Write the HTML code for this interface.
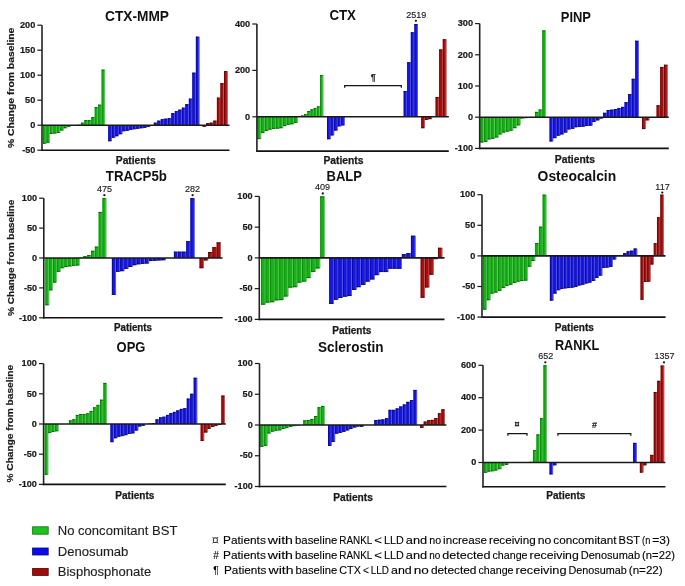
<!DOCTYPE html>
<html><head><meta charset="utf-8"><style>
html,body{margin:0;padding:0;background:#fff;}
svg{display:block;filter:blur(0.45px);}
text{font-family:'Liberation Sans', sans-serif;}
.tk{font-size:9.6px;font-weight:bold;fill:#1a1a1a;stroke:#1a1a1a;stroke-width:0.2px;}
.ti{font-size:14px;font-weight:bold;fill:#111;}
.pt{font-size:10px;font-weight:bold;fill:#1a1a1a;stroke:#1a1a1a;stroke-width:0.25px;}
.yl{font-size:9.4px;font-weight:bold;fill:#1a1a1a;stroke:#1a1a1a;stroke-width:0.2px;}
.nt{font-size:9px;fill:#222;stroke:#222;stroke-width:0.15px;}
.lg{font-size:12.2px;fill:#1e1e1e;stroke:#1e1e1e;stroke-width:0.12px;}
.fn{font-size:10px;fill:#000;stroke:#000;stroke-width:0.1px;}
</style></head><body>
<svg width="685" height="586" viewBox="0 0 685 586">
<rect width="685" height="586" fill="#fff"/>
<rect x="43" y="125.2" width="3.45" height="18.5" fill="#1aae1a"/>
<rect x="45.65" y="125.2" width="0.8" height="18.5" fill="#62dc62"/>
<rect x="43" y="125.2" width="0.9" height="18.5" fill="#148a14"/>
<rect x="43" y="142.8" width="2.65" height="0.9" fill="#0d620d"/>
<rect x="46.45" y="125.2" width="3.45" height="17.5" fill="#1aae1a"/>
<rect x="49.1" y="125.2" width="0.8" height="17.5" fill="#62dc62"/>
<rect x="46.45" y="125.2" width="0.9" height="17.5" fill="#148a14"/>
<rect x="46.45" y="141.8" width="2.65" height="0.9" fill="#0d620d"/>
<rect x="49.9" y="125.2" width="3.45" height="8.75" fill="#1aae1a"/>
<rect x="52.55" y="125.2" width="0.8" height="8.75" fill="#62dc62"/>
<rect x="49.9" y="125.2" width="0.9" height="8.75" fill="#148a14"/>
<rect x="49.9" y="133.05" width="2.65" height="0.9" fill="#0d620d"/>
<rect x="53.35" y="125.2" width="3.45" height="8.25" fill="#1aae1a"/>
<rect x="56" y="125.2" width="0.8" height="8.25" fill="#62dc62"/>
<rect x="53.35" y="125.2" width="0.9" height="8.25" fill="#148a14"/>
<rect x="53.35" y="132.55" width="2.65" height="0.9" fill="#0d620d"/>
<rect x="56.8" y="125.2" width="3.45" height="7.75" fill="#1aae1a"/>
<rect x="59.45" y="125.2" width="0.8" height="7.75" fill="#62dc62"/>
<rect x="56.8" y="125.2" width="0.9" height="7.75" fill="#148a14"/>
<rect x="56.8" y="132.05" width="2.65" height="0.9" fill="#0d620d"/>
<rect x="60.25" y="125.2" width="3.45" height="5.25" fill="#1aae1a"/>
<rect x="62.9" y="125.2" width="0.8" height="5.25" fill="#62dc62"/>
<rect x="60.25" y="125.2" width="0.9" height="5.25" fill="#148a14"/>
<rect x="60.25" y="129.55" width="2.65" height="0.9" fill="#0d620d"/>
<rect x="63.7" y="125.2" width="3.45" height="3" fill="#1aae1a"/>
<rect x="66.35" y="125.2" width="0.8" height="3" fill="#62dc62"/>
<rect x="63.7" y="125.2" width="0.9" height="3" fill="#148a14"/>
<rect x="63.7" y="127.3" width="2.65" height="0.9" fill="#0d620d"/>
<rect x="67.15" y="125.2" width="3.45" height="1.5" fill="#1aae1a"/>
<rect x="69.8" y="125.2" width="0.8" height="1.5" fill="#62dc62"/>
<rect x="67.15" y="125.2" width="0.9" height="1.5" fill="#148a14"/>
<rect x="67.15" y="125.8" width="2.65" height="0.9" fill="#0d620d"/>
<rect x="77.5" y="124.7" width="3.45" height="0.5" fill="#1aae1a"/>
<rect x="80.15" y="124.7" width="0.8" height="0.5" fill="#62dc62"/>
<rect x="77.5" y="124.7" width="0.9" height="0.5" fill="#148a14"/>
<rect x="80.95" y="122.7" width="3.45" height="2.5" fill="#1aae1a"/>
<rect x="83.6" y="122.7" width="0.8" height="2.5" fill="#62dc62"/>
<rect x="80.95" y="122.7" width="0.9" height="2.5" fill="#148a14"/>
<rect x="80.95" y="122.7" width="2.65" height="0.9" fill="#0d620d"/>
<rect x="84.4" y="120.2" width="3.45" height="5" fill="#1aae1a"/>
<rect x="87.05" y="120.2" width="0.8" height="5" fill="#62dc62"/>
<rect x="84.4" y="120.2" width="0.9" height="5" fill="#148a14"/>
<rect x="84.4" y="120.2" width="2.65" height="0.9" fill="#0d620d"/>
<rect x="87.85" y="120.2" width="3.45" height="5" fill="#1aae1a"/>
<rect x="90.5" y="120.2" width="0.8" height="5" fill="#62dc62"/>
<rect x="87.85" y="120.2" width="0.9" height="5" fill="#148a14"/>
<rect x="87.85" y="120.2" width="2.65" height="0.9" fill="#0d620d"/>
<rect x="91.3" y="117.2" width="3.45" height="8" fill="#1aae1a"/>
<rect x="93.95" y="117.2" width="0.8" height="8" fill="#62dc62"/>
<rect x="91.3" y="117.2" width="0.9" height="8" fill="#148a14"/>
<rect x="91.3" y="117.2" width="2.65" height="0.9" fill="#0d620d"/>
<rect x="94.75" y="107.2" width="3.45" height="18" fill="#1aae1a"/>
<rect x="97.4" y="107.2" width="0.8" height="18" fill="#62dc62"/>
<rect x="94.75" y="107.2" width="0.9" height="18" fill="#148a14"/>
<rect x="94.75" y="107.2" width="2.65" height="0.9" fill="#0d620d"/>
<rect x="98.2" y="104.7" width="3.45" height="20.5" fill="#1aae1a"/>
<rect x="100.85" y="104.7" width="0.8" height="20.5" fill="#62dc62"/>
<rect x="98.2" y="104.7" width="0.9" height="20.5" fill="#148a14"/>
<rect x="98.2" y="104.7" width="2.65" height="0.9" fill="#0d620d"/>
<rect x="101.65" y="69.7" width="3.45" height="55.5" fill="#1aae1a"/>
<rect x="104.3" y="69.7" width="0.8" height="55.5" fill="#62dc62"/>
<rect x="101.65" y="69.7" width="0.9" height="55.5" fill="#148a14"/>
<rect x="101.65" y="69.7" width="2.65" height="0.9" fill="#0d620d"/>
<rect x="108.3" y="125.2" width="3.5" height="16" fill="#1818e6"/>
<rect x="111" y="125.2" width="0.8" height="16" fill="#6c6cf5"/>
<rect x="108.3" y="125.2" width="0.9" height="16" fill="#0c0c8a"/>
<rect x="108.3" y="140.3" width="2.7" height="0.9" fill="#0a0a70"/>
<rect x="111.8" y="125.2" width="3.5" height="12.5" fill="#1818e6"/>
<rect x="114.51" y="125.2" width="0.8" height="12.5" fill="#6c6cf5"/>
<rect x="111.8" y="125.2" width="0.9" height="12.5" fill="#0c0c8a"/>
<rect x="111.8" y="136.8" width="2.7" height="0.9" fill="#0a0a70"/>
<rect x="115.31" y="125.2" width="3.5" height="11" fill="#1818e6"/>
<rect x="118.01" y="125.2" width="0.8" height="11" fill="#6c6cf5"/>
<rect x="115.31" y="125.2" width="0.9" height="11" fill="#0c0c8a"/>
<rect x="115.31" y="135.3" width="2.7" height="0.9" fill="#0a0a70"/>
<rect x="118.81" y="125.2" width="3.5" height="9" fill="#1818e6"/>
<rect x="121.52" y="125.2" width="0.8" height="9" fill="#6c6cf5"/>
<rect x="118.81" y="125.2" width="0.9" height="9" fill="#0c0c8a"/>
<rect x="118.81" y="133.3" width="2.7" height="0.9" fill="#0a0a70"/>
<rect x="122.32" y="125.2" width="3.5" height="6" fill="#1818e6"/>
<rect x="125.02" y="125.2" width="0.8" height="6" fill="#6c6cf5"/>
<rect x="122.32" y="125.2" width="0.9" height="6" fill="#0c0c8a"/>
<rect x="122.32" y="130.3" width="2.7" height="0.9" fill="#0a0a70"/>
<rect x="125.82" y="125.2" width="3.5" height="5.5" fill="#1818e6"/>
<rect x="128.52" y="125.2" width="0.8" height="5.5" fill="#6c6cf5"/>
<rect x="125.82" y="125.2" width="0.9" height="5.5" fill="#0c0c8a"/>
<rect x="125.82" y="129.8" width="2.7" height="0.9" fill="#0a0a70"/>
<rect x="129.32" y="125.2" width="3.5" height="4.5" fill="#1818e6"/>
<rect x="132.03" y="125.2" width="0.8" height="4.5" fill="#6c6cf5"/>
<rect x="129.32" y="125.2" width="0.9" height="4.5" fill="#0c0c8a"/>
<rect x="129.32" y="128.8" width="2.7" height="0.9" fill="#0a0a70"/>
<rect x="132.83" y="125.2" width="3.5" height="4" fill="#1818e6"/>
<rect x="135.53" y="125.2" width="0.8" height="4" fill="#6c6cf5"/>
<rect x="132.83" y="125.2" width="0.9" height="4" fill="#0c0c8a"/>
<rect x="132.83" y="128.3" width="2.7" height="0.9" fill="#0a0a70"/>
<rect x="136.33" y="125.2" width="3.5" height="3.5" fill="#1818e6"/>
<rect x="139.03" y="125.2" width="0.8" height="3.5" fill="#6c6cf5"/>
<rect x="136.33" y="125.2" width="0.9" height="3.5" fill="#0c0c8a"/>
<rect x="136.33" y="127.8" width="2.7" height="0.9" fill="#0a0a70"/>
<rect x="139.83" y="125.2" width="3.5" height="3" fill="#1818e6"/>
<rect x="142.54" y="125.2" width="0.8" height="3" fill="#6c6cf5"/>
<rect x="139.83" y="125.2" width="0.9" height="3" fill="#0c0c8a"/>
<rect x="139.83" y="127.3" width="2.7" height="0.9" fill="#0a0a70"/>
<rect x="143.34" y="125.2" width="3.5" height="2.5" fill="#1818e6"/>
<rect x="146.04" y="125.2" width="0.8" height="2.5" fill="#6c6cf5"/>
<rect x="143.34" y="125.2" width="0.9" height="2.5" fill="#0c0c8a"/>
<rect x="143.34" y="126.8" width="2.7" height="0.9" fill="#0a0a70"/>
<rect x="146.84" y="125.2" width="3.5" height="1.5" fill="#1818e6"/>
<rect x="149.55" y="125.2" width="0.8" height="1.5" fill="#6c6cf5"/>
<rect x="146.84" y="125.2" width="0.9" height="1.5" fill="#0c0c8a"/>
<rect x="146.84" y="125.8" width="2.7" height="0.9" fill="#0a0a70"/>
<rect x="153.85" y="122.7" width="3.5" height="2.5" fill="#1818e6"/>
<rect x="156.55" y="122.7" width="0.8" height="2.5" fill="#6c6cf5"/>
<rect x="153.85" y="122.7" width="0.9" height="2.5" fill="#0c0c8a"/>
<rect x="153.85" y="122.7" width="2.7" height="0.9" fill="#0a0a70"/>
<rect x="157.35" y="120.7" width="3.5" height="4.5" fill="#1818e6"/>
<rect x="160.06" y="120.7" width="0.8" height="4.5" fill="#6c6cf5"/>
<rect x="157.35" y="120.7" width="0.9" height="4.5" fill="#0c0c8a"/>
<rect x="157.35" y="120.7" width="2.7" height="0.9" fill="#0a0a70"/>
<rect x="160.86" y="119.2" width="3.5" height="6" fill="#1818e6"/>
<rect x="163.56" y="119.2" width="0.8" height="6" fill="#6c6cf5"/>
<rect x="160.86" y="119.2" width="0.9" height="6" fill="#0c0c8a"/>
<rect x="160.86" y="119.2" width="2.7" height="0.9" fill="#0a0a70"/>
<rect x="164.36" y="118.7" width="3.5" height="6.5" fill="#1818e6"/>
<rect x="167.07" y="118.7" width="0.8" height="6.5" fill="#6c6cf5"/>
<rect x="164.36" y="118.7" width="0.9" height="6.5" fill="#0c0c8a"/>
<rect x="164.36" y="118.7" width="2.7" height="0.9" fill="#0a0a70"/>
<rect x="167.87" y="118.2" width="3.5" height="7" fill="#1818e6"/>
<rect x="170.57" y="118.2" width="0.8" height="7" fill="#6c6cf5"/>
<rect x="167.87" y="118.2" width="0.9" height="7" fill="#0c0c8a"/>
<rect x="167.87" y="118.2" width="2.7" height="0.9" fill="#0a0a70"/>
<rect x="171.37" y="113.2" width="3.5" height="12" fill="#1818e6"/>
<rect x="174.07" y="113.2" width="0.8" height="12" fill="#6c6cf5"/>
<rect x="171.37" y="113.2" width="0.9" height="12" fill="#0c0c8a"/>
<rect x="171.37" y="113.2" width="2.7" height="0.9" fill="#0a0a70"/>
<rect x="174.87" y="111.2" width="3.5" height="14" fill="#1818e6"/>
<rect x="177.58" y="111.2" width="0.8" height="14" fill="#6c6cf5"/>
<rect x="174.87" y="111.2" width="0.9" height="14" fill="#0c0c8a"/>
<rect x="174.87" y="111.2" width="2.7" height="0.9" fill="#0a0a70"/>
<rect x="178.38" y="109.7" width="3.5" height="15.5" fill="#1818e6"/>
<rect x="181.08" y="109.7" width="0.8" height="15.5" fill="#6c6cf5"/>
<rect x="178.38" y="109.7" width="0.9" height="15.5" fill="#0c0c8a"/>
<rect x="178.38" y="109.7" width="2.7" height="0.9" fill="#0a0a70"/>
<rect x="181.88" y="107.7" width="3.5" height="17.5" fill="#1818e6"/>
<rect x="184.58" y="107.7" width="0.8" height="17.5" fill="#6c6cf5"/>
<rect x="181.88" y="107.7" width="0.9" height="17.5" fill="#0c0c8a"/>
<rect x="181.88" y="107.7" width="2.7" height="0.9" fill="#0a0a70"/>
<rect x="185.38" y="104.2" width="3.5" height="21" fill="#1818e6"/>
<rect x="188.09" y="104.2" width="0.8" height="21" fill="#6c6cf5"/>
<rect x="185.38" y="104.2" width="0.9" height="21" fill="#0c0c8a"/>
<rect x="185.38" y="104.2" width="2.7" height="0.9" fill="#0a0a70"/>
<rect x="188.89" y="98.7" width="3.5" height="26.5" fill="#1818e6"/>
<rect x="191.59" y="98.7" width="0.8" height="26.5" fill="#6c6cf5"/>
<rect x="188.89" y="98.7" width="0.9" height="26.5" fill="#0c0c8a"/>
<rect x="188.89" y="98.7" width="2.7" height="0.9" fill="#0a0a70"/>
<rect x="192.39" y="72.7" width="3.5" height="52.5" fill="#1818e6"/>
<rect x="195.1" y="72.7" width="0.8" height="52.5" fill="#6c6cf5"/>
<rect x="192.39" y="72.7" width="0.9" height="52.5" fill="#0c0c8a"/>
<rect x="192.39" y="72.7" width="2.7" height="0.9" fill="#0a0a70"/>
<rect x="195.9" y="36.7" width="3.5" height="88.5" fill="#1818e6"/>
<rect x="198.6" y="36.7" width="0.8" height="88.5" fill="#6c6cf5"/>
<rect x="195.9" y="36.7" width="0.9" height="88.5" fill="#0c0c8a"/>
<rect x="195.9" y="36.7" width="2.7" height="0.9" fill="#0a0a70"/>
<rect x="202.7" y="125.2" width="3.56" height="1.5" fill="#a31111"/>
<rect x="205.46" y="125.2" width="0.8" height="1.5" fill="#d26262"/>
<rect x="202.7" y="125.2" width="0.9" height="1.5" fill="#6a0808"/>
<rect x="202.7" y="125.8" width="2.76" height="0.9" fill="#500505"/>
<rect x="206.26" y="123.2" width="3.56" height="2" fill="#a31111"/>
<rect x="209.01" y="123.2" width="0.8" height="2" fill="#d26262"/>
<rect x="206.26" y="123.2" width="0.9" height="2" fill="#6a0808"/>
<rect x="206.26" y="123.2" width="2.76" height="0.9" fill="#500505"/>
<rect x="209.81" y="122.7" width="3.56" height="2.5" fill="#a31111"/>
<rect x="212.57" y="122.7" width="0.8" height="2.5" fill="#d26262"/>
<rect x="209.81" y="122.7" width="0.9" height="2.5" fill="#6a0808"/>
<rect x="209.81" y="122.7" width="2.76" height="0.9" fill="#500505"/>
<rect x="213.37" y="120.7" width="3.56" height="4.5" fill="#a31111"/>
<rect x="216.13" y="120.7" width="0.8" height="4.5" fill="#d26262"/>
<rect x="213.37" y="120.7" width="0.9" height="4.5" fill="#6a0808"/>
<rect x="213.37" y="120.7" width="2.76" height="0.9" fill="#500505"/>
<rect x="216.93" y="97.7" width="3.56" height="27.5" fill="#a31111"/>
<rect x="219.69" y="97.7" width="0.8" height="27.5" fill="#d26262"/>
<rect x="216.93" y="97.7" width="0.9" height="27.5" fill="#6a0808"/>
<rect x="216.93" y="97.7" width="2.76" height="0.9" fill="#500505"/>
<rect x="220.49" y="83.2" width="3.56" height="42" fill="#a31111"/>
<rect x="223.24" y="83.2" width="0.8" height="42" fill="#d26262"/>
<rect x="220.49" y="83.2" width="0.9" height="42" fill="#6a0808"/>
<rect x="220.49" y="83.2" width="2.76" height="0.9" fill="#500505"/>
<rect x="224.04" y="71.2" width="3.56" height="54" fill="#a31111"/>
<rect x="226.8" y="71.2" width="0.8" height="54" fill="#d26262"/>
<rect x="224.04" y="71.2" width="0.9" height="54" fill="#6a0808"/>
<rect x="224.04" y="71.2" width="2.76" height="0.9" fill="#500505"/>
<line x1="42" y1="125.2" x2="229.5" y2="125.2" stroke="#1a1a1a" stroke-width="1.6"/>
<line x1="41.2" y1="150.2" x2="229.5" y2="150.2" stroke="#111" stroke-width="1.6"/>
<line x1="42" y1="25.2" x2="42" y2="151" stroke="#222" stroke-width="1.6"/>
<line x1="37.4" y1="25.2" x2="42" y2="25.2" stroke="#1a1a1a" stroke-width="1.2"/>
<text x="20" y="27.9" class="tk" textLength="15.3" lengthAdjust="spacingAndGlyphs">200</text>
<line x1="37.4" y1="50.2" x2="42" y2="50.2" stroke="#1a1a1a" stroke-width="1.2"/>
<text x="20" y="52.9" class="tk" textLength="15.3" lengthAdjust="spacingAndGlyphs">150</text>
<line x1="37.4" y1="75.2" x2="42" y2="75.2" stroke="#1a1a1a" stroke-width="1.2"/>
<text x="20" y="77.9" class="tk" textLength="15.3" lengthAdjust="spacingAndGlyphs">100</text>
<line x1="37.4" y1="100.2" x2="42" y2="100.2" stroke="#1a1a1a" stroke-width="1.2"/>
<text x="25.1" y="102.9" class="tk" textLength="10.2" lengthAdjust="spacingAndGlyphs">50</text>
<line x1="37.4" y1="125.2" x2="42" y2="125.2" stroke="#1a1a1a" stroke-width="1.2"/>
<text x="30.2" y="127.9" class="tk" textLength="5.1" lengthAdjust="spacingAndGlyphs">0</text>
<line x1="37.4" y1="150.2" x2="42" y2="150.2" stroke="#1a1a1a" stroke-width="1.2"/>
<text x="22.2" y="152.9" class="tk" textLength="13.1" lengthAdjust="spacingAndGlyphs">-50</text>
<text x="105" y="21" class="ti" textLength="64" lengthAdjust="spacingAndGlyphs">CTX-MMP</text>
<text x="115.8" y="163.9" class="pt" textLength="39.9" lengthAdjust="spacingAndGlyphs">Patients</text>
<text transform="translate(14.4,87.85) rotate(-90)" text-anchor="middle" class="yl" textLength="120.5" lengthAdjust="spacingAndGlyphs">% Change from baseline</text>
<rect x="257.5" y="116.8" width="3.66" height="22.27" fill="#1aae1a"/>
<rect x="260.36" y="116.8" width="0.8" height="22.27" fill="#62dc62"/>
<rect x="257.5" y="116.8" width="0.9" height="22.27" fill="#148a14"/>
<rect x="257.5" y="138.17" width="2.86" height="0.9" fill="#0d620d"/>
<rect x="261.16" y="116.8" width="3.66" height="16.24" fill="#1aae1a"/>
<rect x="264.03" y="116.8" width="0.8" height="16.24" fill="#62dc62"/>
<rect x="261.16" y="116.8" width="0.9" height="16.24" fill="#148a14"/>
<rect x="261.16" y="132.14" width="2.86" height="0.9" fill="#0d620d"/>
<rect x="264.83" y="116.8" width="3.66" height="14.15" fill="#1aae1a"/>
<rect x="267.69" y="116.8" width="0.8" height="14.15" fill="#62dc62"/>
<rect x="264.83" y="116.8" width="0.9" height="14.15" fill="#148a14"/>
<rect x="264.83" y="130.05" width="2.86" height="0.9" fill="#0d620d"/>
<rect x="268.49" y="116.8" width="3.66" height="12.76" fill="#1aae1a"/>
<rect x="271.35" y="116.8" width="0.8" height="12.76" fill="#62dc62"/>
<rect x="268.49" y="116.8" width="0.9" height="12.76" fill="#148a14"/>
<rect x="268.49" y="128.66" width="2.86" height="0.9" fill="#0d620d"/>
<rect x="272.15" y="116.8" width="3.66" height="12.18" fill="#1aae1a"/>
<rect x="275.02" y="116.8" width="0.8" height="12.18" fill="#62dc62"/>
<rect x="272.15" y="116.8" width="0.9" height="12.18" fill="#148a14"/>
<rect x="272.15" y="128.08" width="2.86" height="0.9" fill="#0d620d"/>
<rect x="275.82" y="116.8" width="3.66" height="11.83" fill="#1aae1a"/>
<rect x="278.68" y="116.8" width="0.8" height="11.83" fill="#62dc62"/>
<rect x="275.82" y="116.8" width="0.9" height="11.83" fill="#148a14"/>
<rect x="275.82" y="127.73" width="2.86" height="0.9" fill="#0d620d"/>
<rect x="279.48" y="116.8" width="3.66" height="11.37" fill="#1aae1a"/>
<rect x="282.35" y="116.8" width="0.8" height="11.37" fill="#62dc62"/>
<rect x="279.48" y="116.8" width="0.9" height="11.37" fill="#148a14"/>
<rect x="279.48" y="127.27" width="2.86" height="0.9" fill="#0d620d"/>
<rect x="283.15" y="116.8" width="3.66" height="9.28" fill="#1aae1a"/>
<rect x="286.01" y="116.8" width="0.8" height="9.28" fill="#62dc62"/>
<rect x="283.15" y="116.8" width="0.9" height="9.28" fill="#148a14"/>
<rect x="283.15" y="125.18" width="2.86" height="0.9" fill="#0d620d"/>
<rect x="286.81" y="116.8" width="3.66" height="7.89" fill="#1aae1a"/>
<rect x="289.67" y="116.8" width="0.8" height="7.89" fill="#62dc62"/>
<rect x="286.81" y="116.8" width="0.9" height="7.89" fill="#148a14"/>
<rect x="286.81" y="123.79" width="2.86" height="0.9" fill="#0d620d"/>
<rect x="290.47" y="116.8" width="3.66" height="7.42" fill="#1aae1a"/>
<rect x="293.34" y="116.8" width="0.8" height="7.42" fill="#62dc62"/>
<rect x="290.47" y="116.8" width="0.9" height="7.42" fill="#148a14"/>
<rect x="290.47" y="123.32" width="2.86" height="0.9" fill="#0d620d"/>
<rect x="294.14" y="116.8" width="3.66" height="6.03" fill="#1aae1a"/>
<rect x="297" y="116.8" width="0.8" height="6.03" fill="#62dc62"/>
<rect x="294.14" y="116.8" width="0.9" height="6.03" fill="#148a14"/>
<rect x="294.14" y="121.93" width="2.86" height="0.9" fill="#0d620d"/>
<rect x="297.8" y="116.34" width="3.19" height="0.46" fill="#1aae1a"/>
<rect x="300.19" y="116.34" width="0.8" height="0.46" fill="#62dc62"/>
<rect x="297.8" y="116.34" width="0.9" height="0.46" fill="#148a14"/>
<rect x="300.99" y="115.52" width="3.19" height="1.28" fill="#1aae1a"/>
<rect x="303.38" y="115.52" width="0.8" height="1.28" fill="#62dc62"/>
<rect x="300.99" y="115.52" width="0.9" height="1.28" fill="#148a14"/>
<rect x="300.99" y="115.52" width="2.39" height="0.9" fill="#0d620d"/>
<rect x="304.18" y="114.02" width="3.19" height="2.78" fill="#1aae1a"/>
<rect x="306.56" y="114.02" width="0.8" height="2.78" fill="#62dc62"/>
<rect x="304.18" y="114.02" width="0.9" height="2.78" fill="#148a14"/>
<rect x="304.18" y="114.02" width="2.39" height="0.9" fill="#0d620d"/>
<rect x="307.36" y="111" width="3.19" height="5.8" fill="#1aae1a"/>
<rect x="309.75" y="111" width="0.8" height="5.8" fill="#62dc62"/>
<rect x="307.36" y="111" width="0.9" height="5.8" fill="#148a14"/>
<rect x="307.36" y="111" width="2.39" height="0.9" fill="#0d620d"/>
<rect x="310.55" y="109.38" width="3.19" height="7.42" fill="#1aae1a"/>
<rect x="312.94" y="109.38" width="0.8" height="7.42" fill="#62dc62"/>
<rect x="310.55" y="109.38" width="0.9" height="7.42" fill="#148a14"/>
<rect x="310.55" y="109.38" width="2.39" height="0.9" fill="#0d620d"/>
<rect x="313.74" y="108.1" width="3.19" height="8.7" fill="#1aae1a"/>
<rect x="316.12" y="108.1" width="0.8" height="8.7" fill="#62dc62"/>
<rect x="313.74" y="108.1" width="0.9" height="8.7" fill="#148a14"/>
<rect x="313.74" y="108.1" width="2.39" height="0.9" fill="#0d620d"/>
<rect x="316.93" y="106.36" width="3.19" height="10.44" fill="#1aae1a"/>
<rect x="319.31" y="106.36" width="0.8" height="10.44" fill="#62dc62"/>
<rect x="316.93" y="106.36" width="0.9" height="10.44" fill="#148a14"/>
<rect x="316.93" y="106.36" width="2.39" height="0.9" fill="#0d620d"/>
<rect x="320.11" y="75.04" width="3.19" height="41.76" fill="#1aae1a"/>
<rect x="322.5" y="75.04" width="0.8" height="41.76" fill="#62dc62"/>
<rect x="320.11" y="75.04" width="0.9" height="41.76" fill="#148a14"/>
<rect x="320.11" y="75.04" width="2.39" height="0.9" fill="#0d620d"/>
<rect x="327.1" y="116.8" width="3.52" height="22.39" fill="#1818e6"/>
<rect x="329.82" y="116.8" width="0.8" height="22.39" fill="#6c6cf5"/>
<rect x="327.1" y="116.8" width="0.9" height="22.39" fill="#0c0c8a"/>
<rect x="327.1" y="138.29" width="2.72" height="0.9" fill="#0a0a70"/>
<rect x="330.62" y="116.8" width="3.52" height="18.56" fill="#1818e6"/>
<rect x="333.34" y="116.8" width="0.8" height="18.56" fill="#6c6cf5"/>
<rect x="330.62" y="116.8" width="0.9" height="18.56" fill="#0c0c8a"/>
<rect x="330.62" y="134.46" width="2.72" height="0.9" fill="#0a0a70"/>
<rect x="334.14" y="116.8" width="3.52" height="13.69" fill="#1818e6"/>
<rect x="336.86" y="116.8" width="0.8" height="13.69" fill="#6c6cf5"/>
<rect x="334.14" y="116.8" width="0.9" height="13.69" fill="#0c0c8a"/>
<rect x="334.14" y="129.59" width="2.72" height="0.9" fill="#0a0a70"/>
<rect x="337.66" y="116.8" width="3.52" height="9.51" fill="#1818e6"/>
<rect x="340.38" y="116.8" width="0.8" height="9.51" fill="#6c6cf5"/>
<rect x="337.66" y="116.8" width="0.9" height="9.51" fill="#0c0c8a"/>
<rect x="337.66" y="125.41" width="2.72" height="0.9" fill="#0a0a70"/>
<rect x="341.18" y="116.8" width="3.52" height="8.58" fill="#1818e6"/>
<rect x="343.9" y="116.8" width="0.8" height="8.58" fill="#6c6cf5"/>
<rect x="341.18" y="116.8" width="0.9" height="8.58" fill="#0c0c8a"/>
<rect x="341.18" y="124.48" width="2.72" height="0.9" fill="#0a0a70"/>
<rect x="403.7" y="91.05" width="3.58" height="25.75" fill="#1818e6"/>
<rect x="406.47" y="91.05" width="0.8" height="25.75" fill="#6c6cf5"/>
<rect x="403.7" y="91.05" width="0.9" height="25.75" fill="#0c0c8a"/>
<rect x="403.7" y="91.05" width="2.78" height="0.9" fill="#0a0a70"/>
<rect x="407.27" y="62.28" width="3.58" height="54.52" fill="#1818e6"/>
<rect x="410.05" y="62.28" width="0.8" height="54.52" fill="#6c6cf5"/>
<rect x="407.27" y="62.28" width="0.9" height="54.52" fill="#0c0c8a"/>
<rect x="407.27" y="62.28" width="2.78" height="0.9" fill="#0a0a70"/>
<rect x="410.85" y="32.35" width="3.58" height="84.45" fill="#1818e6"/>
<rect x="413.62" y="32.35" width="0.8" height="84.45" fill="#6c6cf5"/>
<rect x="410.85" y="32.35" width="0.9" height="84.45" fill="#0c0c8a"/>
<rect x="410.85" y="32.35" width="2.78" height="0.9" fill="#0a0a70"/>
<rect x="414.43" y="24" width="3.58" height="92.8" fill="#1818e6"/>
<rect x="417.2" y="24" width="0.8" height="92.8" fill="#6c6cf5"/>
<rect x="414.43" y="24" width="0.9" height="92.8" fill="#0c0c8a"/>
<rect x="414.43" y="24" width="2.78" height="0.9" fill="#0a0a70"/>
<rect x="421.3" y="116.8" width="3.59" height="11.37" fill="#a31111"/>
<rect x="424.09" y="116.8" width="0.8" height="11.37" fill="#d26262"/>
<rect x="421.3" y="116.8" width="0.9" height="11.37" fill="#6a0808"/>
<rect x="421.3" y="127.27" width="2.79" height="0.9" fill="#500505"/>
<rect x="424.89" y="116.8" width="3.59" height="3.02" fill="#a31111"/>
<rect x="427.67" y="116.8" width="0.8" height="3.02" fill="#d26262"/>
<rect x="424.89" y="116.8" width="0.9" height="3.02" fill="#6a0808"/>
<rect x="424.89" y="118.92" width="2.79" height="0.9" fill="#500505"/>
<rect x="428.47" y="116.8" width="3.59" height="2.32" fill="#a31111"/>
<rect x="431.26" y="116.8" width="0.8" height="2.32" fill="#d26262"/>
<rect x="428.47" y="116.8" width="0.9" height="2.32" fill="#6a0808"/>
<rect x="428.47" y="118.22" width="2.79" height="0.9" fill="#500505"/>
<rect x="435.64" y="97.08" width="3.59" height="19.72" fill="#a31111"/>
<rect x="438.43" y="97.08" width="0.8" height="19.72" fill="#d26262"/>
<rect x="435.64" y="97.08" width="0.9" height="19.72" fill="#6a0808"/>
<rect x="435.64" y="97.08" width="2.79" height="0.9" fill="#500505"/>
<rect x="439.23" y="49.52" width="3.59" height="67.28" fill="#a31111"/>
<rect x="442.01" y="49.52" width="0.8" height="67.28" fill="#d26262"/>
<rect x="439.23" y="49.52" width="0.9" height="67.28" fill="#6a0808"/>
<rect x="439.23" y="49.52" width="2.79" height="0.9" fill="#500505"/>
<rect x="442.81" y="39.31" width="3.59" height="77.49" fill="#a31111"/>
<rect x="445.6" y="39.31" width="0.8" height="77.49" fill="#d26262"/>
<rect x="442.81" y="39.31" width="0.9" height="77.49" fill="#6a0808"/>
<rect x="442.81" y="39.31" width="2.79" height="0.9" fill="#500505"/>
<line x1="256.9" y1="116.8" x2="448.8" y2="116.8" stroke="#1a1a1a" stroke-width="1.6"/>
<line x1="256.1" y1="151.14" x2="448.8" y2="151.14" stroke="#111" stroke-width="1.6"/>
<line x1="256.9" y1="24" x2="256.9" y2="151.94" stroke="#222" stroke-width="1.6"/>
<line x1="252.3" y1="24" x2="256.9" y2="24" stroke="#1a1a1a" stroke-width="1.2"/>
<text x="234.9" y="26.7" class="tk" textLength="15.3" lengthAdjust="spacingAndGlyphs">400</text>
<line x1="252.3" y1="70.4" x2="256.9" y2="70.4" stroke="#1a1a1a" stroke-width="1.2"/>
<text x="234.9" y="73.1" class="tk" textLength="15.3" lengthAdjust="spacingAndGlyphs">200</text>
<line x1="252.3" y1="116.8" x2="256.9" y2="116.8" stroke="#1a1a1a" stroke-width="1.2"/>
<text x="245.1" y="119.5" class="tk" textLength="5.1" lengthAdjust="spacingAndGlyphs">0</text>
<text x="329.4" y="20.2" class="ti" textLength="26.6" lengthAdjust="spacingAndGlyphs">CTX</text>
<text x="323.5" y="163.9" class="pt" textLength="40" lengthAdjust="spacingAndGlyphs">Patients</text>
<text x="416.2" y="17.5" text-anchor="middle" class="nt">2519</text>
<circle cx="415.9" cy="20.8" r="1.15" fill="#1a1a1a"/>
<path d="M344.7,87.8 V85.6 H401.3 V87.8" fill="none" stroke="#151515" stroke-width="1.25"/>
<text x="373.3" y="79.6" text-anchor="middle" class="nt" font-weight="bold">¶</text>
<rect x="480.4" y="117.2" width="3.64" height="25.27" fill="#1aae1a"/>
<rect x="483.24" y="117.2" width="0.8" height="25.27" fill="#62dc62"/>
<rect x="480.4" y="117.2" width="0.9" height="25.27" fill="#148a14"/>
<rect x="480.4" y="141.57" width="2.84" height="0.9" fill="#0d620d"/>
<rect x="484.04" y="117.2" width="3.64" height="24.65" fill="#1aae1a"/>
<rect x="486.89" y="117.2" width="0.8" height="24.65" fill="#62dc62"/>
<rect x="484.04" y="117.2" width="0.9" height="24.65" fill="#148a14"/>
<rect x="484.04" y="140.95" width="2.84" height="0.9" fill="#0d620d"/>
<rect x="487.69" y="117.2" width="3.64" height="22.15" fill="#1aae1a"/>
<rect x="490.53" y="117.2" width="0.8" height="22.15" fill="#62dc62"/>
<rect x="487.69" y="117.2" width="0.9" height="22.15" fill="#148a14"/>
<rect x="487.69" y="138.45" width="2.84" height="0.9" fill="#0d620d"/>
<rect x="491.33" y="117.2" width="3.64" height="21.53" fill="#1aae1a"/>
<rect x="494.18" y="117.2" width="0.8" height="21.53" fill="#62dc62"/>
<rect x="491.33" y="117.2" width="0.9" height="21.53" fill="#148a14"/>
<rect x="491.33" y="137.83" width="2.84" height="0.9" fill="#0d620d"/>
<rect x="494.98" y="117.2" width="3.64" height="20.28" fill="#1aae1a"/>
<rect x="497.82" y="117.2" width="0.8" height="20.28" fill="#62dc62"/>
<rect x="494.98" y="117.2" width="0.9" height="20.28" fill="#148a14"/>
<rect x="494.98" y="136.58" width="2.84" height="0.9" fill="#0d620d"/>
<rect x="498.62" y="117.2" width="3.64" height="17.16" fill="#1aae1a"/>
<rect x="501.47" y="117.2" width="0.8" height="17.16" fill="#62dc62"/>
<rect x="498.62" y="117.2" width="0.9" height="17.16" fill="#148a14"/>
<rect x="498.62" y="133.46" width="2.84" height="0.9" fill="#0d620d"/>
<rect x="502.27" y="117.2" width="3.64" height="15.29" fill="#1aae1a"/>
<rect x="505.11" y="117.2" width="0.8" height="15.29" fill="#62dc62"/>
<rect x="502.27" y="117.2" width="0.9" height="15.29" fill="#148a14"/>
<rect x="502.27" y="131.59" width="2.84" height="0.9" fill="#0d620d"/>
<rect x="505.91" y="117.2" width="3.64" height="14.35" fill="#1aae1a"/>
<rect x="508.76" y="117.2" width="0.8" height="14.35" fill="#62dc62"/>
<rect x="505.91" y="117.2" width="0.9" height="14.35" fill="#148a14"/>
<rect x="505.91" y="130.65" width="2.84" height="0.9" fill="#0d620d"/>
<rect x="509.56" y="117.2" width="3.64" height="13.42" fill="#1aae1a"/>
<rect x="512.4" y="117.2" width="0.8" height="13.42" fill="#62dc62"/>
<rect x="509.56" y="117.2" width="0.9" height="13.42" fill="#148a14"/>
<rect x="509.56" y="129.72" width="2.84" height="0.9" fill="#0d620d"/>
<rect x="513.2" y="117.2" width="3.64" height="10.92" fill="#1aae1a"/>
<rect x="516.04" y="117.2" width="0.8" height="10.92" fill="#62dc62"/>
<rect x="513.2" y="117.2" width="0.9" height="10.92" fill="#148a14"/>
<rect x="513.2" y="127.22" width="2.84" height="0.9" fill="#0d620d"/>
<rect x="516.84" y="117.2" width="3.64" height="8.11" fill="#1aae1a"/>
<rect x="519.69" y="117.2" width="0.8" height="8.11" fill="#62dc62"/>
<rect x="516.84" y="117.2" width="0.9" height="8.11" fill="#148a14"/>
<rect x="516.84" y="124.41" width="2.84" height="0.9" fill="#0d620d"/>
<rect x="520.49" y="117.2" width="3.64" height="1.25" fill="#1aae1a"/>
<rect x="523.33" y="117.2" width="0.8" height="1.25" fill="#62dc62"/>
<rect x="520.49" y="117.2" width="0.9" height="1.25" fill="#148a14"/>
<rect x="520.49" y="117.55" width="2.84" height="0.9" fill="#0d620d"/>
<rect x="524.13" y="117.2" width="3.64" height="0.94" fill="#1aae1a"/>
<rect x="526.98" y="117.2" width="0.8" height="0.94" fill="#62dc62"/>
<rect x="524.13" y="117.2" width="0.9" height="0.94" fill="#148a14"/>
<rect x="524.13" y="117.24" width="2.84" height="0.9" fill="#0d620d"/>
<rect x="531.42" y="116.89" width="3.64" height="0.31" fill="#1aae1a"/>
<rect x="534.27" y="116.89" width="0.8" height="0.31" fill="#62dc62"/>
<rect x="531.42" y="116.89" width="0.9" height="0.31" fill="#148a14"/>
<rect x="535.07" y="111.9" width="3.64" height="5.3" fill="#1aae1a"/>
<rect x="537.91" y="111.9" width="0.8" height="5.3" fill="#62dc62"/>
<rect x="535.07" y="111.9" width="0.9" height="5.3" fill="#148a14"/>
<rect x="535.07" y="111.9" width="2.84" height="0.9" fill="#0d620d"/>
<rect x="538.71" y="109.56" width="3.64" height="7.64" fill="#1aae1a"/>
<rect x="541.56" y="109.56" width="0.8" height="7.64" fill="#62dc62"/>
<rect x="538.71" y="109.56" width="0.9" height="7.64" fill="#148a14"/>
<rect x="538.71" y="109.56" width="2.84" height="0.9" fill="#0d620d"/>
<rect x="542.36" y="30.46" width="3.64" height="86.74" fill="#1aae1a"/>
<rect x="545.2" y="30.46" width="0.8" height="86.74" fill="#62dc62"/>
<rect x="542.36" y="30.46" width="0.9" height="86.74" fill="#148a14"/>
<rect x="542.36" y="30.46" width="2.84" height="0.9" fill="#0d620d"/>
<rect x="549.6" y="117.2" width="3.57" height="24.21" fill="#1818e6"/>
<rect x="552.37" y="117.2" width="0.8" height="24.21" fill="#6c6cf5"/>
<rect x="549.6" y="117.2" width="0.9" height="24.21" fill="#0c0c8a"/>
<rect x="549.6" y="140.51" width="2.77" height="0.9" fill="#0a0a70"/>
<rect x="553.17" y="117.2" width="3.57" height="20.9" fill="#1818e6"/>
<rect x="555.94" y="117.2" width="0.8" height="20.9" fill="#6c6cf5"/>
<rect x="553.17" y="117.2" width="0.9" height="20.9" fill="#0c0c8a"/>
<rect x="553.17" y="137.2" width="2.77" height="0.9" fill="#0a0a70"/>
<rect x="556.74" y="117.2" width="3.57" height="18.41" fill="#1818e6"/>
<rect x="559.52" y="117.2" width="0.8" height="18.41" fill="#6c6cf5"/>
<rect x="556.74" y="117.2" width="0.9" height="18.41" fill="#0c0c8a"/>
<rect x="556.74" y="134.71" width="2.77" height="0.9" fill="#0a0a70"/>
<rect x="560.32" y="117.2" width="3.57" height="17.16" fill="#1818e6"/>
<rect x="563.09" y="117.2" width="0.8" height="17.16" fill="#6c6cf5"/>
<rect x="560.32" y="117.2" width="0.9" height="17.16" fill="#0c0c8a"/>
<rect x="560.32" y="133.46" width="2.77" height="0.9" fill="#0a0a70"/>
<rect x="563.89" y="117.2" width="3.57" height="15.29" fill="#1818e6"/>
<rect x="566.66" y="117.2" width="0.8" height="15.29" fill="#6c6cf5"/>
<rect x="563.89" y="117.2" width="0.9" height="15.29" fill="#0c0c8a"/>
<rect x="563.89" y="131.59" width="2.77" height="0.9" fill="#0a0a70"/>
<rect x="567.46" y="117.2" width="3.57" height="12.17" fill="#1818e6"/>
<rect x="570.23" y="117.2" width="0.8" height="12.17" fill="#6c6cf5"/>
<rect x="567.46" y="117.2" width="0.9" height="12.17" fill="#0c0c8a"/>
<rect x="567.46" y="128.47" width="2.77" height="0.9" fill="#0a0a70"/>
<rect x="571.03" y="117.2" width="3.57" height="11.54" fill="#1818e6"/>
<rect x="573.8" y="117.2" width="0.8" height="11.54" fill="#6c6cf5"/>
<rect x="571.03" y="117.2" width="0.9" height="11.54" fill="#0c0c8a"/>
<rect x="571.03" y="127.84" width="2.77" height="0.9" fill="#0a0a70"/>
<rect x="574.6" y="117.2" width="3.57" height="9.98" fill="#1818e6"/>
<rect x="577.38" y="117.2" width="0.8" height="9.98" fill="#6c6cf5"/>
<rect x="574.6" y="117.2" width="0.9" height="9.98" fill="#0c0c8a"/>
<rect x="574.6" y="126.28" width="2.77" height="0.9" fill="#0a0a70"/>
<rect x="578.18" y="117.2" width="3.57" height="9.67" fill="#1818e6"/>
<rect x="580.95" y="117.2" width="0.8" height="9.67" fill="#6c6cf5"/>
<rect x="578.18" y="117.2" width="0.9" height="9.67" fill="#0c0c8a"/>
<rect x="578.18" y="125.97" width="2.77" height="0.9" fill="#0a0a70"/>
<rect x="581.75" y="117.2" width="3.57" height="9.36" fill="#1818e6"/>
<rect x="584.52" y="117.2" width="0.8" height="9.36" fill="#6c6cf5"/>
<rect x="581.75" y="117.2" width="0.9" height="9.36" fill="#0c0c8a"/>
<rect x="581.75" y="125.66" width="2.77" height="0.9" fill="#0a0a70"/>
<rect x="585.32" y="117.2" width="3.57" height="8.74" fill="#1818e6"/>
<rect x="588.09" y="117.2" width="0.8" height="8.74" fill="#6c6cf5"/>
<rect x="585.32" y="117.2" width="0.9" height="8.74" fill="#0c0c8a"/>
<rect x="585.32" y="125.04" width="2.77" height="0.9" fill="#0a0a70"/>
<rect x="588.89" y="117.2" width="3.57" height="8.42" fill="#1818e6"/>
<rect x="591.66" y="117.2" width="0.8" height="8.42" fill="#6c6cf5"/>
<rect x="588.89" y="117.2" width="0.9" height="8.42" fill="#0c0c8a"/>
<rect x="588.89" y="124.72" width="2.77" height="0.9" fill="#0a0a70"/>
<rect x="592.46" y="117.2" width="3.57" height="4.68" fill="#1818e6"/>
<rect x="595.24" y="117.2" width="0.8" height="4.68" fill="#6c6cf5"/>
<rect x="592.46" y="117.2" width="0.9" height="4.68" fill="#0c0c8a"/>
<rect x="592.46" y="120.98" width="2.77" height="0.9" fill="#0a0a70"/>
<rect x="596.04" y="117.2" width="3.57" height="3.12" fill="#1818e6"/>
<rect x="598.81" y="117.2" width="0.8" height="3.12" fill="#6c6cf5"/>
<rect x="596.04" y="117.2" width="0.9" height="3.12" fill="#0c0c8a"/>
<rect x="596.04" y="119.42" width="2.77" height="0.9" fill="#0a0a70"/>
<rect x="599.61" y="117.2" width="3.57" height="1.25" fill="#1818e6"/>
<rect x="602.38" y="117.2" width="0.8" height="1.25" fill="#6c6cf5"/>
<rect x="599.61" y="117.2" width="0.9" height="1.25" fill="#0c0c8a"/>
<rect x="599.61" y="117.55" width="2.77" height="0.9" fill="#0a0a70"/>
<rect x="603.18" y="112.83" width="3.57" height="4.37" fill="#1818e6"/>
<rect x="605.95" y="112.83" width="0.8" height="4.37" fill="#6c6cf5"/>
<rect x="603.18" y="112.83" width="0.9" height="4.37" fill="#0c0c8a"/>
<rect x="603.18" y="112.83" width="2.77" height="0.9" fill="#0a0a70"/>
<rect x="606.75" y="110.02" width="3.57" height="7.18" fill="#1818e6"/>
<rect x="609.52" y="110.02" width="0.8" height="7.18" fill="#6c6cf5"/>
<rect x="606.75" y="110.02" width="0.9" height="7.18" fill="#0c0c8a"/>
<rect x="606.75" y="110.02" width="2.77" height="0.9" fill="#0a0a70"/>
<rect x="610.32" y="109.71" width="3.57" height="7.49" fill="#1818e6"/>
<rect x="613.1" y="109.71" width="0.8" height="7.49" fill="#6c6cf5"/>
<rect x="610.32" y="109.71" width="0.9" height="7.49" fill="#0c0c8a"/>
<rect x="610.32" y="109.71" width="2.77" height="0.9" fill="#0a0a70"/>
<rect x="613.9" y="109.09" width="3.57" height="8.11" fill="#1818e6"/>
<rect x="616.67" y="109.09" width="0.8" height="8.11" fill="#6c6cf5"/>
<rect x="613.9" y="109.09" width="0.9" height="8.11" fill="#0c0c8a"/>
<rect x="613.9" y="109.09" width="2.77" height="0.9" fill="#0a0a70"/>
<rect x="617.47" y="108.15" width="3.57" height="9.05" fill="#1818e6"/>
<rect x="620.24" y="108.15" width="0.8" height="9.05" fill="#6c6cf5"/>
<rect x="617.47" y="108.15" width="0.9" height="9.05" fill="#0c0c8a"/>
<rect x="617.47" y="108.15" width="2.77" height="0.9" fill="#0a0a70"/>
<rect x="621.04" y="106.9" width="3.57" height="10.3" fill="#1818e6"/>
<rect x="623.81" y="106.9" width="0.8" height="10.3" fill="#6c6cf5"/>
<rect x="621.04" y="106.9" width="0.9" height="10.3" fill="#0c0c8a"/>
<rect x="621.04" y="106.9" width="2.77" height="0.9" fill="#0a0a70"/>
<rect x="624.61" y="102.22" width="3.57" height="14.98" fill="#1818e6"/>
<rect x="627.38" y="102.22" width="0.8" height="14.98" fill="#6c6cf5"/>
<rect x="624.61" y="102.22" width="0.9" height="14.98" fill="#0c0c8a"/>
<rect x="624.61" y="102.22" width="2.77" height="0.9" fill="#0a0a70"/>
<rect x="628.18" y="94.11" width="3.57" height="23.09" fill="#1818e6"/>
<rect x="630.96" y="94.11" width="0.8" height="23.09" fill="#6c6cf5"/>
<rect x="628.18" y="94.11" width="0.9" height="23.09" fill="#0c0c8a"/>
<rect x="628.18" y="94.11" width="2.77" height="0.9" fill="#0a0a70"/>
<rect x="631.76" y="78.82" width="3.57" height="38.38" fill="#1818e6"/>
<rect x="634.53" y="78.82" width="0.8" height="38.38" fill="#6c6cf5"/>
<rect x="631.76" y="78.82" width="0.9" height="38.38" fill="#0c0c8a"/>
<rect x="631.76" y="78.82" width="2.77" height="0.9" fill="#0a0a70"/>
<rect x="635.33" y="40.76" width="3.57" height="76.44" fill="#1818e6"/>
<rect x="638.1" y="40.76" width="0.8" height="76.44" fill="#6c6cf5"/>
<rect x="635.33" y="40.76" width="0.9" height="76.44" fill="#0c0c8a"/>
<rect x="635.33" y="40.76" width="2.77" height="0.9" fill="#0a0a70"/>
<rect x="642" y="117.2" width="3.66" height="11.86" fill="#a31111"/>
<rect x="644.86" y="117.2" width="0.8" height="11.86" fill="#d26262"/>
<rect x="642" y="117.2" width="0.9" height="11.86" fill="#6a0808"/>
<rect x="642" y="128.16" width="2.86" height="0.9" fill="#500505"/>
<rect x="645.66" y="117.2" width="3.66" height="3.12" fill="#a31111"/>
<rect x="648.51" y="117.2" width="0.8" height="3.12" fill="#d26262"/>
<rect x="645.66" y="117.2" width="0.9" height="3.12" fill="#6a0808"/>
<rect x="645.66" y="119.42" width="2.86" height="0.9" fill="#500505"/>
<rect x="649.31" y="117.2" width="3.66" height="0.62" fill="#a31111"/>
<rect x="652.17" y="117.2" width="0.8" height="0.62" fill="#d26262"/>
<rect x="649.31" y="117.2" width="0.9" height="0.62" fill="#6a0808"/>
<rect x="656.63" y="105.34" width="3.66" height="11.86" fill="#a31111"/>
<rect x="659.49" y="105.34" width="0.8" height="11.86" fill="#d26262"/>
<rect x="656.63" y="105.34" width="0.9" height="11.86" fill="#6a0808"/>
<rect x="656.63" y="105.34" width="2.86" height="0.9" fill="#500505"/>
<rect x="660.29" y="66.97" width="3.66" height="50.23" fill="#a31111"/>
<rect x="663.14" y="66.97" width="0.8" height="50.23" fill="#d26262"/>
<rect x="660.29" y="66.97" width="0.9" height="50.23" fill="#6a0808"/>
<rect x="660.29" y="66.97" width="2.86" height="0.9" fill="#500505"/>
<rect x="663.94" y="64.78" width="3.66" height="52.42" fill="#a31111"/>
<rect x="666.8" y="64.78" width="0.8" height="52.42" fill="#d26262"/>
<rect x="663.94" y="64.78" width="0.9" height="52.42" fill="#6a0808"/>
<rect x="663.94" y="64.78" width="2.86" height="0.9" fill="#500505"/>
<line x1="479.7" y1="117.2" x2="668.8" y2="117.2" stroke="#1a1a1a" stroke-width="1.6"/>
<line x1="478.9" y1="148.4" x2="668.8" y2="148.4" stroke="#111" stroke-width="1.6"/>
<line x1="479.7" y1="23.6" x2="479.7" y2="149.2" stroke="#222" stroke-width="1.6"/>
<line x1="475.1" y1="23.6" x2="479.7" y2="23.6" stroke="#1a1a1a" stroke-width="1.2"/>
<text x="457.7" y="26.3" class="tk" textLength="15.3" lengthAdjust="spacingAndGlyphs">300</text>
<line x1="475.1" y1="54.8" x2="479.7" y2="54.8" stroke="#1a1a1a" stroke-width="1.2"/>
<text x="457.7" y="57.5" class="tk" textLength="15.3" lengthAdjust="spacingAndGlyphs">200</text>
<line x1="475.1" y1="86" x2="479.7" y2="86" stroke="#1a1a1a" stroke-width="1.2"/>
<text x="457.7" y="88.7" class="tk" textLength="15.3" lengthAdjust="spacingAndGlyphs">100</text>
<line x1="475.1" y1="117.2" x2="479.7" y2="117.2" stroke="#1a1a1a" stroke-width="1.2"/>
<text x="467.9" y="119.9" class="tk" textLength="5.1" lengthAdjust="spacingAndGlyphs">0</text>
<line x1="475.1" y1="148.4" x2="479.7" y2="148.4" stroke="#1a1a1a" stroke-width="1.2"/>
<text x="454.8" y="151.1" class="tk" textLength="18.2" lengthAdjust="spacingAndGlyphs">-100</text>
<text x="560.8" y="21.8" class="ti" textLength="30.2" lengthAdjust="spacingAndGlyphs">PINP</text>
<text x="554.8" y="162.6" class="pt" textLength="40.1" lengthAdjust="spacingAndGlyphs">Patients</text>
<rect x="45.4" y="258" width="3.81" height="47.24" fill="#1aae1a"/>
<rect x="48.41" y="258" width="0.8" height="47.24" fill="#62dc62"/>
<rect x="45.4" y="258" width="0.9" height="47.24" fill="#148a14"/>
<rect x="45.4" y="304.34" width="3.01" height="0.9" fill="#0d620d"/>
<rect x="49.21" y="258" width="3.81" height="32.29" fill="#1aae1a"/>
<rect x="52.21" y="258" width="0.8" height="32.29" fill="#62dc62"/>
<rect x="49.21" y="258" width="0.9" height="32.29" fill="#148a14"/>
<rect x="49.21" y="289.39" width="3.01" height="0.9" fill="#0d620d"/>
<rect x="53.01" y="258" width="3.81" height="24.52" fill="#1aae1a"/>
<rect x="56.02" y="258" width="0.8" height="24.52" fill="#62dc62"/>
<rect x="53.01" y="258" width="0.9" height="24.52" fill="#148a14"/>
<rect x="53.01" y="281.62" width="3.01" height="0.9" fill="#0d620d"/>
<rect x="56.82" y="258" width="3.81" height="13.75" fill="#1aae1a"/>
<rect x="59.82" y="258" width="0.8" height="13.75" fill="#62dc62"/>
<rect x="56.82" y="258" width="0.9" height="13.75" fill="#148a14"/>
<rect x="56.82" y="270.85" width="3.01" height="0.9" fill="#0d620d"/>
<rect x="60.62" y="258" width="3.81" height="10.17" fill="#1aae1a"/>
<rect x="63.63" y="258" width="0.8" height="10.17" fill="#62dc62"/>
<rect x="60.62" y="258" width="0.9" height="10.17" fill="#148a14"/>
<rect x="60.62" y="267.27" width="3.01" height="0.9" fill="#0d620d"/>
<rect x="64.43" y="258" width="3.81" height="8.97" fill="#1aae1a"/>
<rect x="67.44" y="258" width="0.8" height="8.97" fill="#62dc62"/>
<rect x="64.43" y="258" width="0.9" height="8.97" fill="#148a14"/>
<rect x="64.43" y="266.07" width="3.01" height="0.9" fill="#0d620d"/>
<rect x="68.24" y="258" width="3.81" height="8.37" fill="#1aae1a"/>
<rect x="71.24" y="258" width="0.8" height="8.37" fill="#62dc62"/>
<rect x="68.24" y="258" width="0.9" height="8.37" fill="#148a14"/>
<rect x="68.24" y="265.47" width="3.01" height="0.9" fill="#0d620d"/>
<rect x="72.04" y="258" width="3.81" height="7.77" fill="#1aae1a"/>
<rect x="75.05" y="258" width="0.8" height="7.77" fill="#62dc62"/>
<rect x="72.04" y="258" width="0.9" height="7.77" fill="#148a14"/>
<rect x="72.04" y="264.87" width="3.01" height="0.9" fill="#0d620d"/>
<rect x="75.85" y="258" width="3.81" height="7.47" fill="#1aae1a"/>
<rect x="78.86" y="258" width="0.8" height="7.47" fill="#62dc62"/>
<rect x="75.85" y="258" width="0.9" height="7.47" fill="#148a14"/>
<rect x="75.85" y="264.58" width="3.01" height="0.9" fill="#0d620d"/>
<rect x="79.66" y="257.4" width="3.81" height="0.6" fill="#1aae1a"/>
<rect x="82.66" y="257.4" width="0.8" height="0.6" fill="#62dc62"/>
<rect x="79.66" y="257.4" width="0.9" height="0.6" fill="#148a14"/>
<rect x="83.46" y="256.21" width="3.81" height="1.79" fill="#1aae1a"/>
<rect x="86.47" y="256.21" width="0.8" height="1.79" fill="#62dc62"/>
<rect x="83.46" y="256.21" width="0.9" height="1.79" fill="#148a14"/>
<rect x="83.46" y="256.21" width="3.01" height="0.9" fill="#0d620d"/>
<rect x="87.27" y="255.01" width="3.81" height="2.99" fill="#1aae1a"/>
<rect x="90.28" y="255.01" width="0.8" height="2.99" fill="#62dc62"/>
<rect x="87.27" y="255.01" width="0.9" height="2.99" fill="#148a14"/>
<rect x="87.27" y="255.01" width="3.01" height="0.9" fill="#0d620d"/>
<rect x="91.07" y="250.82" width="3.81" height="7.18" fill="#1aae1a"/>
<rect x="94.08" y="250.82" width="0.8" height="7.18" fill="#62dc62"/>
<rect x="91.07" y="250.82" width="0.9" height="7.18" fill="#148a14"/>
<rect x="91.07" y="250.82" width="3.01" height="0.9" fill="#0d620d"/>
<rect x="94.88" y="246.64" width="3.81" height="11.36" fill="#1aae1a"/>
<rect x="97.89" y="246.64" width="0.8" height="11.36" fill="#62dc62"/>
<rect x="94.88" y="246.64" width="0.9" height="11.36" fill="#148a14"/>
<rect x="94.88" y="246.64" width="3.01" height="0.9" fill="#0d620d"/>
<rect x="98.69" y="211.95" width="3.81" height="46.05" fill="#1aae1a"/>
<rect x="101.69" y="211.95" width="0.8" height="46.05" fill="#62dc62"/>
<rect x="98.69" y="211.95" width="0.9" height="46.05" fill="#148a14"/>
<rect x="98.69" y="211.95" width="3.01" height="0.9" fill="#0d620d"/>
<rect x="102.49" y="198.2" width="3.81" height="59.8" fill="#1aae1a"/>
<rect x="105.5" y="198.2" width="0.8" height="59.8" fill="#62dc62"/>
<rect x="102.49" y="198.2" width="0.9" height="59.8" fill="#148a14"/>
<rect x="102.49" y="198.2" width="3.01" height="0.9" fill="#0d620d"/>
<rect x="111.9" y="258" width="4.13" height="36.78" fill="#1818e6"/>
<rect x="115.24" y="258" width="0.8" height="36.78" fill="#6c6cf5"/>
<rect x="111.9" y="258" width="0.9" height="36.78" fill="#0c0c8a"/>
<rect x="111.9" y="293.88" width="3.33" height="0.9" fill="#0a0a70"/>
<rect x="116.04" y="258" width="4.13" height="13.75" fill="#1818e6"/>
<rect x="119.37" y="258" width="0.8" height="13.75" fill="#6c6cf5"/>
<rect x="116.04" y="258" width="0.9" height="13.75" fill="#0c0c8a"/>
<rect x="116.04" y="270.85" width="3.33" height="0.9" fill="#0a0a70"/>
<rect x="120.17" y="258" width="4.13" height="13.16" fill="#1818e6"/>
<rect x="123.51" y="258" width="0.8" height="13.16" fill="#6c6cf5"/>
<rect x="120.17" y="258" width="0.9" height="13.16" fill="#0c0c8a"/>
<rect x="120.17" y="270.26" width="3.33" height="0.9" fill="#0a0a70"/>
<rect x="124.31" y="258" width="4.13" height="10.76" fill="#1818e6"/>
<rect x="127.64" y="258" width="0.8" height="10.76" fill="#6c6cf5"/>
<rect x="124.31" y="258" width="0.9" height="10.76" fill="#0c0c8a"/>
<rect x="124.31" y="267.86" width="3.33" height="0.9" fill="#0a0a70"/>
<rect x="128.44" y="258" width="4.13" height="8.97" fill="#1818e6"/>
<rect x="131.77" y="258" width="0.8" height="8.97" fill="#6c6cf5"/>
<rect x="128.44" y="258" width="0.9" height="8.97" fill="#0c0c8a"/>
<rect x="128.44" y="266.07" width="3.33" height="0.9" fill="#0a0a70"/>
<rect x="132.57" y="258" width="4.13" height="7.18" fill="#1818e6"/>
<rect x="135.91" y="258" width="0.8" height="7.18" fill="#6c6cf5"/>
<rect x="132.57" y="258" width="0.9" height="7.18" fill="#0c0c8a"/>
<rect x="132.57" y="264.28" width="3.33" height="0.9" fill="#0a0a70"/>
<rect x="136.71" y="258" width="4.13" height="6.28" fill="#1818e6"/>
<rect x="140.04" y="258" width="0.8" height="6.28" fill="#6c6cf5"/>
<rect x="136.71" y="258" width="0.9" height="6.28" fill="#0c0c8a"/>
<rect x="136.71" y="263.38" width="3.33" height="0.9" fill="#0a0a70"/>
<rect x="140.84" y="258" width="4.13" height="5.8" fill="#1818e6"/>
<rect x="144.18" y="258" width="0.8" height="5.8" fill="#6c6cf5"/>
<rect x="140.84" y="258" width="0.9" height="5.8" fill="#0c0c8a"/>
<rect x="140.84" y="262.9" width="3.33" height="0.9" fill="#0a0a70"/>
<rect x="144.98" y="258" width="4.13" height="5.5" fill="#1818e6"/>
<rect x="148.31" y="258" width="0.8" height="5.5" fill="#6c6cf5"/>
<rect x="144.98" y="258" width="0.9" height="5.5" fill="#0c0c8a"/>
<rect x="144.98" y="262.6" width="3.33" height="0.9" fill="#0a0a70"/>
<rect x="149.12" y="258" width="4.13" height="2.99" fill="#1818e6"/>
<rect x="152.45" y="258" width="0.8" height="2.99" fill="#6c6cf5"/>
<rect x="149.12" y="258" width="0.9" height="2.99" fill="#0c0c8a"/>
<rect x="149.12" y="260.09" width="3.33" height="0.9" fill="#0a0a70"/>
<rect x="153.25" y="258" width="4.13" height="2.69" fill="#1818e6"/>
<rect x="156.58" y="258" width="0.8" height="2.69" fill="#6c6cf5"/>
<rect x="153.25" y="258" width="0.9" height="2.69" fill="#0c0c8a"/>
<rect x="153.25" y="259.79" width="3.33" height="0.9" fill="#0a0a70"/>
<rect x="157.38" y="258" width="4.13" height="2.39" fill="#1818e6"/>
<rect x="160.72" y="258" width="0.8" height="2.39" fill="#6c6cf5"/>
<rect x="157.38" y="258" width="0.9" height="2.39" fill="#0c0c8a"/>
<rect x="157.38" y="259.49" width="3.33" height="0.9" fill="#0a0a70"/>
<rect x="161.52" y="258" width="4.13" height="2.21" fill="#1818e6"/>
<rect x="164.85" y="258" width="0.8" height="2.21" fill="#6c6cf5"/>
<rect x="161.52" y="258" width="0.9" height="2.21" fill="#0c0c8a"/>
<rect x="161.52" y="259.31" width="3.33" height="0.9" fill="#0a0a70"/>
<rect x="173.93" y="251.72" width="4.13" height="6.28" fill="#1818e6"/>
<rect x="177.26" y="251.72" width="0.8" height="6.28" fill="#6c6cf5"/>
<rect x="173.93" y="251.72" width="0.9" height="6.28" fill="#0c0c8a"/>
<rect x="173.93" y="251.72" width="3.33" height="0.9" fill="#0a0a70"/>
<rect x="178.06" y="251.72" width="4.13" height="6.28" fill="#1818e6"/>
<rect x="181.39" y="251.72" width="0.8" height="6.28" fill="#6c6cf5"/>
<rect x="178.06" y="251.72" width="0.9" height="6.28" fill="#0c0c8a"/>
<rect x="178.06" y="251.72" width="3.33" height="0.9" fill="#0a0a70"/>
<rect x="182.19" y="251.72" width="4.13" height="6.28" fill="#1818e6"/>
<rect x="185.53" y="251.72" width="0.8" height="6.28" fill="#6c6cf5"/>
<rect x="182.19" y="251.72" width="0.9" height="6.28" fill="#0c0c8a"/>
<rect x="182.19" y="251.72" width="3.33" height="0.9" fill="#0a0a70"/>
<rect x="186.33" y="241.26" width="4.13" height="16.74" fill="#1818e6"/>
<rect x="189.66" y="241.26" width="0.8" height="16.74" fill="#6c6cf5"/>
<rect x="186.33" y="241.26" width="0.9" height="16.74" fill="#0c0c8a"/>
<rect x="186.33" y="241.26" width="3.33" height="0.9" fill="#0a0a70"/>
<rect x="190.47" y="198.2" width="4.13" height="59.8" fill="#1818e6"/>
<rect x="193.8" y="198.2" width="0.8" height="59.8" fill="#6c6cf5"/>
<rect x="190.47" y="198.2" width="0.9" height="59.8" fill="#0c0c8a"/>
<rect x="190.47" y="198.2" width="3.33" height="0.9" fill="#0a0a70"/>
<rect x="199.6" y="258" width="4.28" height="10.17" fill="#a31111"/>
<rect x="203.08" y="258" width="0.8" height="10.17" fill="#d26262"/>
<rect x="199.6" y="258" width="0.9" height="10.17" fill="#6a0808"/>
<rect x="199.6" y="267.27" width="3.48" height="0.9" fill="#500505"/>
<rect x="203.88" y="258" width="4.28" height="2.39" fill="#a31111"/>
<rect x="207.36" y="258" width="0.8" height="2.39" fill="#d26262"/>
<rect x="203.88" y="258" width="0.9" height="2.39" fill="#6a0808"/>
<rect x="203.88" y="259.49" width="3.48" height="0.9" fill="#500505"/>
<rect x="208.16" y="252.02" width="4.28" height="5.98" fill="#a31111"/>
<rect x="211.64" y="252.02" width="0.8" height="5.98" fill="#d26262"/>
<rect x="208.16" y="252.02" width="0.9" height="5.98" fill="#6a0808"/>
<rect x="208.16" y="252.02" width="3.48" height="0.9" fill="#500505"/>
<rect x="212.44" y="247.24" width="4.28" height="10.76" fill="#a31111"/>
<rect x="215.92" y="247.24" width="0.8" height="10.76" fill="#d26262"/>
<rect x="212.44" y="247.24" width="0.9" height="10.76" fill="#6a0808"/>
<rect x="212.44" y="247.24" width="3.48" height="0.9" fill="#500505"/>
<rect x="216.72" y="242.45" width="4.28" height="15.55" fill="#a31111"/>
<rect x="220.2" y="242.45" width="0.8" height="15.55" fill="#d26262"/>
<rect x="216.72" y="242.45" width="0.9" height="15.55" fill="#6a0808"/>
<rect x="216.72" y="242.45" width="3.48" height="0.9" fill="#500505"/>
<line x1="43.8" y1="258" x2="222.6" y2="258" stroke="#1a1a1a" stroke-width="1.6"/>
<line x1="43" y1="317.8" x2="222.6" y2="317.8" stroke="#111" stroke-width="1.6"/>
<line x1="43.8" y1="198.2" x2="43.8" y2="318.6" stroke="#222" stroke-width="1.6"/>
<line x1="39.2" y1="198.2" x2="43.8" y2="198.2" stroke="#1a1a1a" stroke-width="1.2"/>
<text x="21.8" y="200.9" class="tk" textLength="15.3" lengthAdjust="spacingAndGlyphs">100</text>
<line x1="39.2" y1="228.1" x2="43.8" y2="228.1" stroke="#1a1a1a" stroke-width="1.2"/>
<text x="26.9" y="230.8" class="tk" textLength="10.2" lengthAdjust="spacingAndGlyphs">50</text>
<line x1="39.2" y1="258" x2="43.8" y2="258" stroke="#1a1a1a" stroke-width="1.2"/>
<text x="32" y="260.7" class="tk" textLength="5.1" lengthAdjust="spacingAndGlyphs">0</text>
<line x1="39.2" y1="287.9" x2="43.8" y2="287.9" stroke="#1a1a1a" stroke-width="1.2"/>
<text x="24" y="290.6" class="tk" textLength="13.1" lengthAdjust="spacingAndGlyphs">-50</text>
<line x1="39.2" y1="317.8" x2="43.8" y2="317.8" stroke="#1a1a1a" stroke-width="1.2"/>
<text x="18.9" y="320.5" class="tk" textLength="18.2" lengthAdjust="spacingAndGlyphs">-100</text>
<text x="105.8" y="181.1" class="ti" textLength="61.1" lengthAdjust="spacingAndGlyphs">TRACP5b</text>
<text x="114" y="331" class="pt" textLength="38" lengthAdjust="spacingAndGlyphs">Patients</text>
<text transform="translate(14.3,257.75) rotate(-90)" text-anchor="middle" class="yl" textLength="116.3" lengthAdjust="spacingAndGlyphs">% Change from baseline</text>
<text x="104.6" y="191.6" text-anchor="middle" class="nt">475</text>
<text x="192.6" y="191.6" text-anchor="middle" class="nt">282</text>
<circle cx="104.4" cy="195.2" r="1.15" fill="#1a1a1a"/>
<circle cx="192.6" cy="195.2" r="1.15" fill="#1a1a1a"/>
<rect x="261" y="257.9" width="4.56" height="46.74" fill="#1aae1a"/>
<rect x="264.76" y="257.9" width="0.8" height="46.74" fill="#62dc62"/>
<rect x="261" y="257.9" width="0.9" height="46.74" fill="#148a14"/>
<rect x="261" y="303.74" width="3.76" height="0.9" fill="#0d620d"/>
<rect x="265.56" y="257.9" width="4.56" height="44.65" fill="#1aae1a"/>
<rect x="269.31" y="257.9" width="0.8" height="44.65" fill="#62dc62"/>
<rect x="265.56" y="257.9" width="0.9" height="44.65" fill="#148a14"/>
<rect x="265.56" y="301.65" width="3.76" height="0.9" fill="#0d620d"/>
<rect x="270.11" y="257.9" width="4.56" height="44.28" fill="#1aae1a"/>
<rect x="273.87" y="257.9" width="0.8" height="44.28" fill="#62dc62"/>
<rect x="270.11" y="257.9" width="0.9" height="44.28" fill="#148a14"/>
<rect x="270.11" y="301.28" width="3.76" height="0.9" fill="#0d620d"/>
<rect x="274.67" y="257.9" width="4.56" height="42.44" fill="#1aae1a"/>
<rect x="278.43" y="257.9" width="0.8" height="42.44" fill="#62dc62"/>
<rect x="274.67" y="257.9" width="0.9" height="42.44" fill="#148a14"/>
<rect x="274.67" y="299.44" width="3.76" height="0.9" fill="#0d620d"/>
<rect x="279.23" y="257.9" width="4.56" height="42.19" fill="#1aae1a"/>
<rect x="282.99" y="257.9" width="0.8" height="42.19" fill="#62dc62"/>
<rect x="279.23" y="257.9" width="0.9" height="42.19" fill="#148a14"/>
<rect x="279.23" y="299.19" width="3.76" height="0.9" fill="#0d620d"/>
<rect x="283.79" y="257.9" width="4.56" height="38.56" fill="#1aae1a"/>
<rect x="287.54" y="257.9" width="0.8" height="38.56" fill="#62dc62"/>
<rect x="283.79" y="257.9" width="0.9" height="38.56" fill="#148a14"/>
<rect x="283.79" y="295.56" width="3.76" height="0.9" fill="#0d620d"/>
<rect x="288.34" y="257.9" width="4.56" height="29.7" fill="#1aae1a"/>
<rect x="292.1" y="257.9" width="0.8" height="29.7" fill="#62dc62"/>
<rect x="288.34" y="257.9" width="0.9" height="29.7" fill="#148a14"/>
<rect x="288.34" y="286.7" width="3.76" height="0.9" fill="#0d620d"/>
<rect x="292.9" y="257.9" width="4.56" height="29.27" fill="#1aae1a"/>
<rect x="296.66" y="257.9" width="0.8" height="29.27" fill="#62dc62"/>
<rect x="292.9" y="257.9" width="0.9" height="29.27" fill="#148a14"/>
<rect x="292.9" y="286.27" width="3.76" height="0.9" fill="#0d620d"/>
<rect x="297.46" y="257.9" width="4.56" height="24.72" fill="#1aae1a"/>
<rect x="301.21" y="257.9" width="0.8" height="24.72" fill="#62dc62"/>
<rect x="297.46" y="257.9" width="0.9" height="24.72" fill="#148a14"/>
<rect x="297.46" y="281.72" width="3.76" height="0.9" fill="#0d620d"/>
<rect x="302.01" y="257.9" width="4.56" height="23.62" fill="#1aae1a"/>
<rect x="305.77" y="257.9" width="0.8" height="23.62" fill="#62dc62"/>
<rect x="302.01" y="257.9" width="0.9" height="23.62" fill="#148a14"/>
<rect x="302.01" y="280.62" width="3.76" height="0.9" fill="#0d620d"/>
<rect x="306.57" y="257.9" width="4.56" height="20.17" fill="#1aae1a"/>
<rect x="310.33" y="257.9" width="0.8" height="20.17" fill="#62dc62"/>
<rect x="306.57" y="257.9" width="0.9" height="20.17" fill="#148a14"/>
<rect x="306.57" y="277.17" width="3.76" height="0.9" fill="#0d620d"/>
<rect x="311.13" y="257.9" width="4.56" height="13.96" fill="#1aae1a"/>
<rect x="314.89" y="257.9" width="0.8" height="13.96" fill="#62dc62"/>
<rect x="311.13" y="257.9" width="0.9" height="13.96" fill="#148a14"/>
<rect x="311.13" y="270.96" width="3.76" height="0.9" fill="#0d620d"/>
<rect x="315.69" y="257.9" width="4.56" height="10.52" fill="#1aae1a"/>
<rect x="319.44" y="257.9" width="0.8" height="10.52" fill="#62dc62"/>
<rect x="315.69" y="257.9" width="0.9" height="10.52" fill="#148a14"/>
<rect x="315.69" y="267.52" width="3.76" height="0.9" fill="#0d620d"/>
<rect x="320.24" y="196.4" width="4.56" height="61.5" fill="#1aae1a"/>
<rect x="324" y="196.4" width="0.8" height="61.5" fill="#62dc62"/>
<rect x="320.24" y="196.4" width="0.9" height="61.5" fill="#148a14"/>
<rect x="320.24" y="196.4" width="3.76" height="0.9" fill="#0d620d"/>
<rect x="329.3" y="257.9" width="4.54" height="45.94" fill="#1818e6"/>
<rect x="333.04" y="257.9" width="0.8" height="45.94" fill="#6c6cf5"/>
<rect x="329.3" y="257.9" width="0.9" height="45.94" fill="#0c0c8a"/>
<rect x="329.3" y="302.94" width="3.74" height="0.9" fill="#0a0a70"/>
<rect x="333.84" y="257.9" width="4.54" height="41.82" fill="#1818e6"/>
<rect x="337.57" y="257.9" width="0.8" height="41.82" fill="#6c6cf5"/>
<rect x="333.84" y="257.9" width="0.9" height="41.82" fill="#0c0c8a"/>
<rect x="333.84" y="298.82" width="3.74" height="0.9" fill="#0a0a70"/>
<rect x="338.37" y="257.9" width="4.54" height="39.98" fill="#1818e6"/>
<rect x="342.11" y="257.9" width="0.8" height="39.98" fill="#6c6cf5"/>
<rect x="338.37" y="257.9" width="0.9" height="39.98" fill="#0c0c8a"/>
<rect x="338.37" y="296.98" width="3.74" height="0.9" fill="#0a0a70"/>
<rect x="342.91" y="257.9" width="4.54" height="38.74" fill="#1818e6"/>
<rect x="346.65" y="257.9" width="0.8" height="38.74" fill="#6c6cf5"/>
<rect x="342.91" y="257.9" width="0.9" height="38.74" fill="#0c0c8a"/>
<rect x="342.91" y="295.75" width="3.74" height="0.9" fill="#0a0a70"/>
<rect x="347.45" y="257.9" width="4.54" height="38.13" fill="#1818e6"/>
<rect x="351.18" y="257.9" width="0.8" height="38.13" fill="#6c6cf5"/>
<rect x="347.45" y="257.9" width="0.9" height="38.13" fill="#0c0c8a"/>
<rect x="347.45" y="295.13" width="3.74" height="0.9" fill="#0a0a70"/>
<rect x="351.98" y="257.9" width="4.54" height="31.98" fill="#1818e6"/>
<rect x="355.72" y="257.9" width="0.8" height="31.98" fill="#6c6cf5"/>
<rect x="351.98" y="257.9" width="0.9" height="31.98" fill="#0c0c8a"/>
<rect x="351.98" y="288.98" width="3.74" height="0.9" fill="#0a0a70"/>
<rect x="356.52" y="257.9" width="4.54" height="29.27" fill="#1818e6"/>
<rect x="360.26" y="257.9" width="0.8" height="29.27" fill="#6c6cf5"/>
<rect x="356.52" y="257.9" width="0.9" height="29.27" fill="#0c0c8a"/>
<rect x="356.52" y="286.27" width="3.74" height="0.9" fill="#0a0a70"/>
<rect x="361.06" y="257.9" width="4.54" height="26.88" fill="#1818e6"/>
<rect x="364.79" y="257.9" width="0.8" height="26.88" fill="#6c6cf5"/>
<rect x="361.06" y="257.9" width="0.9" height="26.88" fill="#0c0c8a"/>
<rect x="361.06" y="283.88" width="3.74" height="0.9" fill="#0a0a70"/>
<rect x="365.59" y="257.9" width="4.54" height="23.68" fill="#1818e6"/>
<rect x="369.33" y="257.9" width="0.8" height="23.68" fill="#6c6cf5"/>
<rect x="365.59" y="257.9" width="0.9" height="23.68" fill="#0c0c8a"/>
<rect x="365.59" y="280.68" width="3.74" height="0.9" fill="#0a0a70"/>
<rect x="370.13" y="257.9" width="4.54" height="21.52" fill="#1818e6"/>
<rect x="373.87" y="257.9" width="0.8" height="21.52" fill="#6c6cf5"/>
<rect x="370.13" y="257.9" width="0.9" height="21.52" fill="#0c0c8a"/>
<rect x="370.13" y="278.52" width="3.74" height="0.9" fill="#0a0a70"/>
<rect x="374.67" y="257.9" width="4.54" height="17.22" fill="#1818e6"/>
<rect x="378.41" y="257.9" width="0.8" height="17.22" fill="#6c6cf5"/>
<rect x="374.67" y="257.9" width="0.9" height="17.22" fill="#0c0c8a"/>
<rect x="374.67" y="274.22" width="3.74" height="0.9" fill="#0a0a70"/>
<rect x="379.21" y="257.9" width="4.54" height="14.14" fill="#1818e6"/>
<rect x="382.94" y="257.9" width="0.8" height="14.14" fill="#6c6cf5"/>
<rect x="379.21" y="257.9" width="0.9" height="14.14" fill="#0c0c8a"/>
<rect x="379.21" y="271.14" width="3.74" height="0.9" fill="#0a0a70"/>
<rect x="383.74" y="257.9" width="4.54" height="14.14" fill="#1818e6"/>
<rect x="387.48" y="257.9" width="0.8" height="14.14" fill="#6c6cf5"/>
<rect x="383.74" y="257.9" width="0.9" height="14.14" fill="#0c0c8a"/>
<rect x="383.74" y="271.14" width="3.74" height="0.9" fill="#0a0a70"/>
<rect x="388.28" y="257.9" width="4.54" height="10.76" fill="#1818e6"/>
<rect x="392.02" y="257.9" width="0.8" height="10.76" fill="#6c6cf5"/>
<rect x="388.28" y="257.9" width="0.9" height="10.76" fill="#0c0c8a"/>
<rect x="388.28" y="267.76" width="3.74" height="0.9" fill="#0a0a70"/>
<rect x="392.82" y="257.9" width="4.54" height="10.76" fill="#1818e6"/>
<rect x="396.55" y="257.9" width="0.8" height="10.76" fill="#6c6cf5"/>
<rect x="392.82" y="257.9" width="0.9" height="10.76" fill="#0c0c8a"/>
<rect x="392.82" y="267.76" width="3.74" height="0.9" fill="#0a0a70"/>
<rect x="397.35" y="257.9" width="4.54" height="10.76" fill="#1818e6"/>
<rect x="401.09" y="257.9" width="0.8" height="10.76" fill="#6c6cf5"/>
<rect x="397.35" y="257.9" width="0.9" height="10.76" fill="#0c0c8a"/>
<rect x="397.35" y="267.76" width="3.74" height="0.9" fill="#0a0a70"/>
<rect x="401.89" y="254.21" width="4.54" height="3.69" fill="#1818e6"/>
<rect x="405.63" y="254.21" width="0.8" height="3.69" fill="#6c6cf5"/>
<rect x="401.89" y="254.21" width="0.9" height="3.69" fill="#0c0c8a"/>
<rect x="401.89" y="254.21" width="3.74" height="0.9" fill="#0a0a70"/>
<rect x="406.43" y="253.23" width="4.54" height="4.67" fill="#1818e6"/>
<rect x="410.16" y="253.23" width="0.8" height="4.67" fill="#6c6cf5"/>
<rect x="406.43" y="253.23" width="0.9" height="4.67" fill="#0c0c8a"/>
<rect x="406.43" y="253.23" width="3.74" height="0.9" fill="#0a0a70"/>
<rect x="410.96" y="235.76" width="4.54" height="22.14" fill="#1818e6"/>
<rect x="414.7" y="235.76" width="0.8" height="22.14" fill="#6c6cf5"/>
<rect x="410.96" y="235.76" width="0.9" height="22.14" fill="#0c0c8a"/>
<rect x="410.96" y="235.76" width="3.74" height="0.9" fill="#0a0a70"/>
<rect x="420.7" y="257.9" width="4.32" height="39.79" fill="#a31111"/>
<rect x="424.22" y="257.9" width="0.8" height="39.79" fill="#d26262"/>
<rect x="420.7" y="257.9" width="0.9" height="39.79" fill="#6a0808"/>
<rect x="420.7" y="296.79" width="3.52" height="0.9" fill="#500505"/>
<rect x="425.02" y="257.9" width="4.32" height="29.52" fill="#a31111"/>
<rect x="428.54" y="257.9" width="0.8" height="29.52" fill="#d26262"/>
<rect x="425.02" y="257.9" width="0.9" height="29.52" fill="#6a0808"/>
<rect x="425.02" y="286.52" width="3.52" height="0.9" fill="#500505"/>
<rect x="429.34" y="257.9" width="4.32" height="16.79" fill="#a31111"/>
<rect x="432.86" y="257.9" width="0.8" height="16.79" fill="#d26262"/>
<rect x="429.34" y="257.9" width="0.9" height="16.79" fill="#6a0808"/>
<rect x="429.34" y="273.79" width="3.52" height="0.9" fill="#500505"/>
<rect x="433.66" y="257.9" width="4.32" height="1.23" fill="#a31111"/>
<rect x="437.18" y="257.9" width="0.8" height="1.23" fill="#d26262"/>
<rect x="433.66" y="257.9" width="0.9" height="1.23" fill="#6a0808"/>
<rect x="433.66" y="258.23" width="3.52" height="0.9" fill="#500505"/>
<rect x="437.98" y="247.81" width="4.32" height="10.09" fill="#a31111"/>
<rect x="441.5" y="247.81" width="0.8" height="10.09" fill="#d26262"/>
<rect x="437.98" y="247.81" width="0.9" height="10.09" fill="#6a0808"/>
<rect x="437.98" y="247.81" width="3.52" height="0.9" fill="#500505"/>
<line x1="259.3" y1="257.9" x2="444.5" y2="257.9" stroke="#1a1a1a" stroke-width="1.6"/>
<line x1="258.5" y1="319.4" x2="444.5" y2="319.4" stroke="#111" stroke-width="1.6"/>
<line x1="259.3" y1="196.4" x2="259.3" y2="320.2" stroke="#222" stroke-width="1.6"/>
<line x1="254.7" y1="196.4" x2="259.3" y2="196.4" stroke="#1a1a1a" stroke-width="1.2"/>
<text x="237.3" y="199.1" class="tk" textLength="15.3" lengthAdjust="spacingAndGlyphs">100</text>
<line x1="254.7" y1="227.15" x2="259.3" y2="227.15" stroke="#1a1a1a" stroke-width="1.2"/>
<text x="242.4" y="229.85" class="tk" textLength="10.2" lengthAdjust="spacingAndGlyphs">50</text>
<line x1="254.7" y1="257.9" x2="259.3" y2="257.9" stroke="#1a1a1a" stroke-width="1.2"/>
<text x="247.5" y="260.6" class="tk" textLength="5.1" lengthAdjust="spacingAndGlyphs">0</text>
<line x1="254.7" y1="288.65" x2="259.3" y2="288.65" stroke="#1a1a1a" stroke-width="1.2"/>
<text x="239.5" y="291.35" class="tk" textLength="13.1" lengthAdjust="spacingAndGlyphs">-50</text>
<line x1="254.7" y1="319.4" x2="259.3" y2="319.4" stroke="#1a1a1a" stroke-width="1.2"/>
<text x="234.4" y="322.1" class="tk" textLength="18.2" lengthAdjust="spacingAndGlyphs">-100</text>
<text x="326.6" y="181.1" class="ti" textLength="35.4" lengthAdjust="spacingAndGlyphs">BALP</text>
<text x="332.3" y="334" class="pt" textLength="39" lengthAdjust="spacingAndGlyphs">Patients</text>
<text x="322.4" y="190" text-anchor="middle" class="nt">409</text>
<circle cx="322.8" cy="193.5" r="1.15" fill="#1a1a1a"/>
<rect x="483.1" y="255.9" width="3.72" height="53.67" fill="#1aae1a"/>
<rect x="486.02" y="255.9" width="0.8" height="53.67" fill="#62dc62"/>
<rect x="483.1" y="255.9" width="0.9" height="53.67" fill="#148a14"/>
<rect x="483.1" y="308.67" width="2.92" height="0.9" fill="#0d620d"/>
<rect x="486.82" y="255.9" width="3.72" height="44.31" fill="#1aae1a"/>
<rect x="489.75" y="255.9" width="0.8" height="44.31" fill="#62dc62"/>
<rect x="486.82" y="255.9" width="0.9" height="44.31" fill="#148a14"/>
<rect x="486.82" y="299.31" width="2.92" height="0.9" fill="#0d620d"/>
<rect x="490.55" y="255.9" width="3.72" height="37.7" fill="#1aae1a"/>
<rect x="493.47" y="255.9" width="0.8" height="37.7" fill="#62dc62"/>
<rect x="490.55" y="255.9" width="0.9" height="37.7" fill="#148a14"/>
<rect x="490.55" y="292.7" width="2.92" height="0.9" fill="#0d620d"/>
<rect x="494.27" y="255.9" width="3.72" height="36.6" fill="#1aae1a"/>
<rect x="497.19" y="255.9" width="0.8" height="36.6" fill="#62dc62"/>
<rect x="494.27" y="255.9" width="0.9" height="36.6" fill="#148a14"/>
<rect x="494.27" y="291.6" width="2.92" height="0.9" fill="#0d620d"/>
<rect x="497.99" y="255.9" width="3.72" height="34.88" fill="#1aae1a"/>
<rect x="500.92" y="255.9" width="0.8" height="34.88" fill="#62dc62"/>
<rect x="497.99" y="255.9" width="0.9" height="34.88" fill="#148a14"/>
<rect x="497.99" y="289.88" width="2.92" height="0.9" fill="#0d620d"/>
<rect x="501.72" y="255.9" width="3.72" height="32.13" fill="#1aae1a"/>
<rect x="504.64" y="255.9" width="0.8" height="32.13" fill="#62dc62"/>
<rect x="501.72" y="255.9" width="0.9" height="32.13" fill="#148a14"/>
<rect x="501.72" y="287.13" width="2.92" height="0.9" fill="#0d620d"/>
<rect x="505.44" y="255.9" width="3.72" height="29.93" fill="#1aae1a"/>
<rect x="508.36" y="255.9" width="0.8" height="29.93" fill="#62dc62"/>
<rect x="505.44" y="255.9" width="0.9" height="29.93" fill="#148a14"/>
<rect x="505.44" y="284.93" width="2.92" height="0.9" fill="#0d620d"/>
<rect x="509.16" y="255.9" width="3.72" height="28.83" fill="#1aae1a"/>
<rect x="512.09" y="255.9" width="0.8" height="28.83" fill="#62dc62"/>
<rect x="509.16" y="255.9" width="0.9" height="28.83" fill="#148a14"/>
<rect x="509.16" y="283.83" width="2.92" height="0.9" fill="#0d620d"/>
<rect x="512.89" y="255.9" width="3.72" height="27.11" fill="#1aae1a"/>
<rect x="515.81" y="255.9" width="0.8" height="27.11" fill="#62dc62"/>
<rect x="512.89" y="255.9" width="0.9" height="27.11" fill="#148a14"/>
<rect x="512.89" y="282.11" width="2.92" height="0.9" fill="#0d620d"/>
<rect x="516.61" y="255.9" width="3.72" height="25.7" fill="#1aae1a"/>
<rect x="519.54" y="255.9" width="0.8" height="25.7" fill="#62dc62"/>
<rect x="516.61" y="255.9" width="0.9" height="25.7" fill="#148a14"/>
<rect x="516.61" y="280.7" width="2.92" height="0.9" fill="#0d620d"/>
<rect x="520.34" y="255.9" width="3.72" height="25.09" fill="#1aae1a"/>
<rect x="523.26" y="255.9" width="0.8" height="25.09" fill="#62dc62"/>
<rect x="520.34" y="255.9" width="0.9" height="25.09" fill="#148a14"/>
<rect x="520.34" y="280.09" width="2.92" height="0.9" fill="#0d620d"/>
<rect x="524.06" y="255.9" width="3.72" height="24.66" fill="#1aae1a"/>
<rect x="526.98" y="255.9" width="0.8" height="24.66" fill="#62dc62"/>
<rect x="524.06" y="255.9" width="0.9" height="24.66" fill="#148a14"/>
<rect x="524.06" y="279.66" width="2.92" height="0.9" fill="#0d620d"/>
<rect x="527.78" y="255.9" width="3.72" height="10.83" fill="#1aae1a"/>
<rect x="530.71" y="255.9" width="0.8" height="10.83" fill="#62dc62"/>
<rect x="527.78" y="255.9" width="0.9" height="10.83" fill="#148a14"/>
<rect x="527.78" y="265.83" width="2.92" height="0.9" fill="#0d620d"/>
<rect x="531.51" y="255.9" width="3.72" height="5.14" fill="#1aae1a"/>
<rect x="534.43" y="255.9" width="0.8" height="5.14" fill="#62dc62"/>
<rect x="531.51" y="255.9" width="0.9" height="5.14" fill="#148a14"/>
<rect x="531.51" y="260.14" width="2.92" height="0.9" fill="#0d620d"/>
<rect x="535.23" y="243.05" width="3.72" height="12.85" fill="#1aae1a"/>
<rect x="538.15" y="243.05" width="0.8" height="12.85" fill="#62dc62"/>
<rect x="535.23" y="243.05" width="0.9" height="12.85" fill="#148a14"/>
<rect x="535.23" y="243.05" width="2.92" height="0.9" fill="#0d620d"/>
<rect x="538.95" y="226.71" width="3.72" height="29.19" fill="#1aae1a"/>
<rect x="541.88" y="226.71" width="0.8" height="29.19" fill="#62dc62"/>
<rect x="538.95" y="226.71" width="0.9" height="29.19" fill="#148a14"/>
<rect x="538.95" y="226.71" width="2.92" height="0.9" fill="#0d620d"/>
<rect x="542.68" y="194.7" width="3.72" height="61.2" fill="#1aae1a"/>
<rect x="545.6" y="194.7" width="0.8" height="61.2" fill="#62dc62"/>
<rect x="542.68" y="194.7" width="0.9" height="61.2" fill="#148a14"/>
<rect x="542.68" y="194.7" width="2.92" height="0.9" fill="#0d620d"/>
<rect x="549.9" y="255.9" width="3.49" height="44.68" fill="#1818e6"/>
<rect x="552.59" y="255.9" width="0.8" height="44.68" fill="#6c6cf5"/>
<rect x="549.9" y="255.9" width="0.9" height="44.68" fill="#0c0c8a"/>
<rect x="549.9" y="299.68" width="2.69" height="0.9" fill="#0a0a70"/>
<rect x="553.39" y="255.9" width="3.49" height="37.64" fill="#1818e6"/>
<rect x="556.08" y="255.9" width="0.8" height="37.64" fill="#6c6cf5"/>
<rect x="553.39" y="255.9" width="0.9" height="37.64" fill="#0c0c8a"/>
<rect x="553.39" y="292.64" width="2.69" height="0.9" fill="#0a0a70"/>
<rect x="556.88" y="255.9" width="3.49" height="34.27" fill="#1818e6"/>
<rect x="559.58" y="255.9" width="0.8" height="34.27" fill="#6c6cf5"/>
<rect x="556.88" y="255.9" width="0.9" height="34.27" fill="#0c0c8a"/>
<rect x="556.88" y="289.27" width="2.69" height="0.9" fill="#0a0a70"/>
<rect x="560.38" y="255.9" width="3.49" height="33.05" fill="#1818e6"/>
<rect x="563.07" y="255.9" width="0.8" height="33.05" fill="#6c6cf5"/>
<rect x="560.38" y="255.9" width="0.9" height="33.05" fill="#0c0c8a"/>
<rect x="560.38" y="288.05" width="2.69" height="0.9" fill="#0a0a70"/>
<rect x="563.87" y="255.9" width="3.49" height="32.44" fill="#1818e6"/>
<rect x="566.56" y="255.9" width="0.8" height="32.44" fill="#6c6cf5"/>
<rect x="563.87" y="255.9" width="0.9" height="32.44" fill="#0c0c8a"/>
<rect x="563.87" y="287.44" width="2.69" height="0.9" fill="#0a0a70"/>
<rect x="567.36" y="255.9" width="3.49" height="32.13" fill="#1818e6"/>
<rect x="570.05" y="255.9" width="0.8" height="32.13" fill="#6c6cf5"/>
<rect x="567.36" y="255.9" width="0.9" height="32.13" fill="#0c0c8a"/>
<rect x="567.36" y="287.13" width="2.69" height="0.9" fill="#0a0a70"/>
<rect x="570.85" y="255.9" width="3.49" height="31.7" fill="#1818e6"/>
<rect x="573.54" y="255.9" width="0.8" height="31.7" fill="#6c6cf5"/>
<rect x="570.85" y="255.9" width="0.9" height="31.7" fill="#0c0c8a"/>
<rect x="570.85" y="286.7" width="2.69" height="0.9" fill="#0a0a70"/>
<rect x="574.34" y="255.9" width="3.49" height="30.97" fill="#1818e6"/>
<rect x="577.04" y="255.9" width="0.8" height="30.97" fill="#6c6cf5"/>
<rect x="574.34" y="255.9" width="0.9" height="30.97" fill="#0c0c8a"/>
<rect x="574.34" y="285.97" width="2.69" height="0.9" fill="#0a0a70"/>
<rect x="577.84" y="255.9" width="3.49" height="29.56" fill="#1818e6"/>
<rect x="580.53" y="255.9" width="0.8" height="29.56" fill="#6c6cf5"/>
<rect x="577.84" y="255.9" width="0.9" height="29.56" fill="#0c0c8a"/>
<rect x="577.84" y="284.56" width="2.69" height="0.9" fill="#0a0a70"/>
<rect x="581.33" y="255.9" width="3.49" height="28.76" fill="#1818e6"/>
<rect x="584.02" y="255.9" width="0.8" height="28.76" fill="#6c6cf5"/>
<rect x="581.33" y="255.9" width="0.9" height="28.76" fill="#0c0c8a"/>
<rect x="581.33" y="283.76" width="2.69" height="0.9" fill="#0a0a70"/>
<rect x="584.82" y="255.9" width="3.49" height="27.54" fill="#1818e6"/>
<rect x="587.51" y="255.9" width="0.8" height="27.54" fill="#6c6cf5"/>
<rect x="584.82" y="255.9" width="0.9" height="27.54" fill="#0c0c8a"/>
<rect x="584.82" y="282.54" width="2.69" height="0.9" fill="#0a0a70"/>
<rect x="588.31" y="255.9" width="3.49" height="26.68" fill="#1818e6"/>
<rect x="591" y="255.9" width="0.8" height="26.68" fill="#6c6cf5"/>
<rect x="588.31" y="255.9" width="0.9" height="26.68" fill="#0c0c8a"/>
<rect x="588.31" y="281.68" width="2.69" height="0.9" fill="#0a0a70"/>
<rect x="591.8" y="255.9" width="3.49" height="25.09" fill="#1818e6"/>
<rect x="594.5" y="255.9" width="0.8" height="25.09" fill="#6c6cf5"/>
<rect x="591.8" y="255.9" width="0.9" height="25.09" fill="#0c0c8a"/>
<rect x="591.8" y="280.09" width="2.69" height="0.9" fill="#0a0a70"/>
<rect x="595.3" y="255.9" width="3.49" height="22.03" fill="#1818e6"/>
<rect x="597.99" y="255.9" width="0.8" height="22.03" fill="#6c6cf5"/>
<rect x="595.3" y="255.9" width="0.9" height="22.03" fill="#0c0c8a"/>
<rect x="595.3" y="277.03" width="2.69" height="0.9" fill="#0a0a70"/>
<rect x="598.79" y="255.9" width="3.49" height="19.71" fill="#1818e6"/>
<rect x="601.48" y="255.9" width="0.8" height="19.71" fill="#6c6cf5"/>
<rect x="598.79" y="255.9" width="0.9" height="19.71" fill="#0c0c8a"/>
<rect x="598.79" y="274.71" width="2.69" height="0.9" fill="#0a0a70"/>
<rect x="602.28" y="255.9" width="3.49" height="12" fill="#1818e6"/>
<rect x="604.97" y="255.9" width="0.8" height="12" fill="#6c6cf5"/>
<rect x="602.28" y="255.9" width="0.9" height="12" fill="#0c0c8a"/>
<rect x="602.28" y="267" width="2.69" height="0.9" fill="#0a0a70"/>
<rect x="605.77" y="255.9" width="3.49" height="11.63" fill="#1818e6"/>
<rect x="608.46" y="255.9" width="0.8" height="11.63" fill="#6c6cf5"/>
<rect x="605.77" y="255.9" width="0.9" height="11.63" fill="#0c0c8a"/>
<rect x="605.77" y="266.63" width="2.69" height="0.9" fill="#0a0a70"/>
<rect x="609.26" y="255.9" width="3.49" height="10.89" fill="#1818e6"/>
<rect x="611.96" y="255.9" width="0.8" height="10.89" fill="#6c6cf5"/>
<rect x="609.26" y="255.9" width="0.9" height="10.89" fill="#0c0c8a"/>
<rect x="609.26" y="265.89" width="2.69" height="0.9" fill="#0a0a70"/>
<rect x="612.76" y="255.9" width="3.49" height="3.55" fill="#1818e6"/>
<rect x="615.45" y="255.9" width="0.8" height="3.55" fill="#6c6cf5"/>
<rect x="612.76" y="255.9" width="0.9" height="3.55" fill="#0c0c8a"/>
<rect x="612.76" y="258.55" width="2.69" height="0.9" fill="#0a0a70"/>
<rect x="619.74" y="254.98" width="3.49" height="0.92" fill="#1818e6"/>
<rect x="622.43" y="254.98" width="0.8" height="0.92" fill="#6c6cf5"/>
<rect x="619.74" y="254.98" width="0.9" height="0.92" fill="#0c0c8a"/>
<rect x="619.74" y="254.98" width="2.69" height="0.9" fill="#0a0a70"/>
<rect x="623.23" y="253.08" width="3.49" height="2.82" fill="#1818e6"/>
<rect x="625.92" y="253.08" width="0.8" height="2.82" fill="#6c6cf5"/>
<rect x="623.23" y="253.08" width="0.9" height="2.82" fill="#0c0c8a"/>
<rect x="623.23" y="253.08" width="2.69" height="0.9" fill="#0a0a70"/>
<rect x="626.72" y="251.31" width="3.49" height="4.59" fill="#1818e6"/>
<rect x="629.42" y="251.31" width="0.8" height="4.59" fill="#6c6cf5"/>
<rect x="626.72" y="251.31" width="0.9" height="4.59" fill="#0c0c8a"/>
<rect x="626.72" y="251.31" width="2.69" height="0.9" fill="#0a0a70"/>
<rect x="630.22" y="250.7" width="3.49" height="5.2" fill="#1818e6"/>
<rect x="632.91" y="250.7" width="0.8" height="5.2" fill="#6c6cf5"/>
<rect x="630.22" y="250.7" width="0.9" height="5.2" fill="#0c0c8a"/>
<rect x="630.22" y="250.7" width="2.69" height="0.9" fill="#0a0a70"/>
<rect x="633.71" y="248.56" width="3.49" height="7.34" fill="#1818e6"/>
<rect x="636.4" y="248.56" width="0.8" height="7.34" fill="#6c6cf5"/>
<rect x="633.71" y="248.56" width="0.9" height="7.34" fill="#0c0c8a"/>
<rect x="633.71" y="248.56" width="2.69" height="0.9" fill="#0a0a70"/>
<rect x="640.6" y="255.9" width="3.3" height="43.76" fill="#a31111"/>
<rect x="643.1" y="255.9" width="0.8" height="43.76" fill="#d26262"/>
<rect x="640.6" y="255.9" width="0.9" height="43.76" fill="#6a0808"/>
<rect x="640.6" y="298.76" width="2.5" height="0.9" fill="#500505"/>
<rect x="643.9" y="255.9" width="3.3" height="26.01" fill="#a31111"/>
<rect x="646.4" y="255.9" width="0.8" height="26.01" fill="#d26262"/>
<rect x="643.9" y="255.9" width="0.9" height="26.01" fill="#6a0808"/>
<rect x="643.9" y="281.01" width="2.5" height="0.9" fill="#500505"/>
<rect x="647.2" y="255.9" width="3.3" height="25.7" fill="#a31111"/>
<rect x="649.7" y="255.9" width="0.8" height="25.7" fill="#d26262"/>
<rect x="647.2" y="255.9" width="0.9" height="25.7" fill="#6a0808"/>
<rect x="647.2" y="280.7" width="2.5" height="0.9" fill="#500505"/>
<rect x="650.5" y="255.9" width="3.3" height="8.57" fill="#a31111"/>
<rect x="653" y="255.9" width="0.8" height="8.57" fill="#d26262"/>
<rect x="650.5" y="255.9" width="0.9" height="8.57" fill="#6a0808"/>
<rect x="650.5" y="263.57" width="2.5" height="0.9" fill="#500505"/>
<rect x="653.8" y="243.29" width="3.3" height="12.61" fill="#a31111"/>
<rect x="656.3" y="243.29" width="0.8" height="12.61" fill="#d26262"/>
<rect x="653.8" y="243.29" width="0.9" height="12.61" fill="#6a0808"/>
<rect x="653.8" y="243.29" width="2.5" height="0.9" fill="#500505"/>
<rect x="657.1" y="217.34" width="3.3" height="38.56" fill="#a31111"/>
<rect x="659.6" y="217.34" width="0.8" height="38.56" fill="#d26262"/>
<rect x="657.1" y="217.34" width="0.9" height="38.56" fill="#6a0808"/>
<rect x="657.1" y="217.34" width="2.5" height="0.9" fill="#500505"/>
<rect x="660.4" y="194.7" width="3.3" height="61.2" fill="#a31111"/>
<rect x="662.9" y="194.7" width="0.8" height="61.2" fill="#d26262"/>
<rect x="660.4" y="194.7" width="0.9" height="61.2" fill="#6a0808"/>
<rect x="660.4" y="194.7" width="2.5" height="0.9" fill="#500505"/>
<line x1="482" y1="255.9" x2="665.5" y2="255.9" stroke="#1a1a1a" stroke-width="1.6"/>
<line x1="481.2" y1="317.1" x2="665.5" y2="317.1" stroke="#111" stroke-width="1.6"/>
<line x1="482" y1="194.7" x2="482" y2="317.9" stroke="#222" stroke-width="1.6"/>
<line x1="477.4" y1="194.7" x2="482" y2="194.7" stroke="#1a1a1a" stroke-width="1.2"/>
<text x="460" y="197.4" class="tk" textLength="15.3" lengthAdjust="spacingAndGlyphs">100</text>
<line x1="477.4" y1="225.3" x2="482" y2="225.3" stroke="#1a1a1a" stroke-width="1.2"/>
<text x="465.1" y="228" class="tk" textLength="10.2" lengthAdjust="spacingAndGlyphs">50</text>
<line x1="477.4" y1="255.9" x2="482" y2="255.9" stroke="#1a1a1a" stroke-width="1.2"/>
<text x="470.2" y="258.6" class="tk" textLength="5.1" lengthAdjust="spacingAndGlyphs">0</text>
<line x1="477.4" y1="286.5" x2="482" y2="286.5" stroke="#1a1a1a" stroke-width="1.2"/>
<text x="462.2" y="289.2" class="tk" textLength="13.1" lengthAdjust="spacingAndGlyphs">-50</text>
<line x1="477.4" y1="317.1" x2="482" y2="317.1" stroke="#1a1a1a" stroke-width="1.2"/>
<text x="457.1" y="319.8" class="tk" textLength="18.2" lengthAdjust="spacingAndGlyphs">-100</text>
<text x="537.6" y="181.2" class="ti" textLength="78.6" lengthAdjust="spacingAndGlyphs">Osteocalcin</text>
<text x="554.8" y="331.2" class="pt" textLength="39" lengthAdjust="spacingAndGlyphs">Patients</text>
<text x="662.5" y="190" text-anchor="middle" class="nt">117</text>
<circle cx="662.3" cy="192.6" r="1.15" fill="#1a1a1a"/>
<rect x="44.8" y="424" width="3.45" height="50.74" fill="#1aae1a"/>
<rect x="47.45" y="424" width="0.8" height="50.74" fill="#62dc62"/>
<rect x="44.8" y="424" width="0.9" height="50.74" fill="#148a14"/>
<rect x="44.8" y="473.84" width="2.65" height="0.9" fill="#0d620d"/>
<rect x="48.25" y="424" width="3.45" height="9.06" fill="#1aae1a"/>
<rect x="50.9" y="424" width="0.8" height="9.06" fill="#62dc62"/>
<rect x="48.25" y="424" width="0.9" height="9.06" fill="#148a14"/>
<rect x="48.25" y="432.16" width="2.65" height="0.9" fill="#0d620d"/>
<rect x="51.7" y="424" width="3.45" height="7.85" fill="#1aae1a"/>
<rect x="54.35" y="424" width="0.8" height="7.85" fill="#62dc62"/>
<rect x="51.7" y="424" width="0.9" height="7.85" fill="#148a14"/>
<rect x="51.7" y="430.95" width="2.65" height="0.9" fill="#0d620d"/>
<rect x="55.15" y="424" width="3.45" height="7.25" fill="#1aae1a"/>
<rect x="57.8" y="424" width="0.8" height="7.25" fill="#62dc62"/>
<rect x="55.15" y="424" width="0.9" height="7.25" fill="#148a14"/>
<rect x="55.15" y="430.35" width="2.65" height="0.9" fill="#0d620d"/>
<rect x="68.95" y="420.38" width="3.45" height="3.62" fill="#1aae1a"/>
<rect x="71.6" y="420.38" width="0.8" height="3.62" fill="#62dc62"/>
<rect x="68.95" y="420.38" width="0.9" height="3.62" fill="#148a14"/>
<rect x="68.95" y="420.38" width="2.65" height="0.9" fill="#0d620d"/>
<rect x="72.4" y="419.29" width="3.45" height="4.71" fill="#1aae1a"/>
<rect x="75.05" y="419.29" width="0.8" height="4.71" fill="#62dc62"/>
<rect x="72.4" y="419.29" width="0.9" height="4.71" fill="#148a14"/>
<rect x="72.4" y="419.29" width="2.65" height="0.9" fill="#0d620d"/>
<rect x="75.85" y="414.94" width="3.45" height="9.06" fill="#1aae1a"/>
<rect x="78.5" y="414.94" width="0.8" height="9.06" fill="#62dc62"/>
<rect x="75.85" y="414.94" width="0.9" height="9.06" fill="#148a14"/>
<rect x="75.85" y="414.94" width="2.65" height="0.9" fill="#0d620d"/>
<rect x="79.3" y="414.03" width="3.45" height="9.97" fill="#1aae1a"/>
<rect x="81.95" y="414.03" width="0.8" height="9.97" fill="#62dc62"/>
<rect x="79.3" y="414.03" width="0.9" height="9.97" fill="#148a14"/>
<rect x="79.3" y="414.03" width="2.65" height="0.9" fill="#0d620d"/>
<rect x="82.75" y="414.03" width="3.45" height="9.97" fill="#1aae1a"/>
<rect x="85.4" y="414.03" width="0.8" height="9.97" fill="#62dc62"/>
<rect x="82.75" y="414.03" width="0.9" height="9.97" fill="#148a14"/>
<rect x="82.75" y="414.03" width="2.65" height="0.9" fill="#0d620d"/>
<rect x="86.2" y="413.37" width="3.45" height="10.63" fill="#1aae1a"/>
<rect x="88.85" y="413.37" width="0.8" height="10.63" fill="#62dc62"/>
<rect x="86.2" y="413.37" width="0.9" height="10.63" fill="#148a14"/>
<rect x="86.2" y="413.37" width="2.65" height="0.9" fill="#0d620d"/>
<rect x="89.65" y="410.95" width="3.45" height="13.05" fill="#1aae1a"/>
<rect x="92.3" y="410.95" width="0.8" height="13.05" fill="#62dc62"/>
<rect x="89.65" y="410.95" width="0.9" height="13.05" fill="#148a14"/>
<rect x="89.65" y="410.95" width="2.65" height="0.9" fill="#0d620d"/>
<rect x="93.1" y="407.33" width="3.45" height="16.67" fill="#1aae1a"/>
<rect x="95.75" y="407.33" width="0.8" height="16.67" fill="#62dc62"/>
<rect x="93.1" y="407.33" width="0.9" height="16.67" fill="#148a14"/>
<rect x="93.1" y="407.33" width="2.65" height="0.9" fill="#0d620d"/>
<rect x="96.55" y="404.91" width="3.45" height="19.09" fill="#1aae1a"/>
<rect x="99.2" y="404.91" width="0.8" height="19.09" fill="#62dc62"/>
<rect x="96.55" y="404.91" width="0.9" height="19.09" fill="#148a14"/>
<rect x="96.55" y="404.91" width="2.65" height="0.9" fill="#0d620d"/>
<rect x="100" y="399.72" width="3.45" height="24.28" fill="#1aae1a"/>
<rect x="102.65" y="399.72" width="0.8" height="24.28" fill="#62dc62"/>
<rect x="100" y="399.72" width="0.9" height="24.28" fill="#148a14"/>
<rect x="100" y="399.72" width="2.65" height="0.9" fill="#0d620d"/>
<rect x="103.45" y="382.93" width="3.45" height="41.07" fill="#1aae1a"/>
<rect x="106.1" y="382.93" width="0.8" height="41.07" fill="#62dc62"/>
<rect x="103.45" y="382.93" width="0.9" height="41.07" fill="#148a14"/>
<rect x="103.45" y="382.93" width="2.65" height="0.9" fill="#0d620d"/>
<rect x="110.5" y="424" width="3.47" height="18.12" fill="#1818e6"/>
<rect x="113.17" y="424" width="0.8" height="18.12" fill="#6c6cf5"/>
<rect x="110.5" y="424" width="0.9" height="18.12" fill="#0c0c8a"/>
<rect x="110.5" y="441.22" width="2.67" height="0.9" fill="#0a0a70"/>
<rect x="113.97" y="424" width="3.47" height="14.19" fill="#1818e6"/>
<rect x="116.64" y="424" width="0.8" height="14.19" fill="#6c6cf5"/>
<rect x="113.97" y="424" width="0.9" height="14.19" fill="#0c0c8a"/>
<rect x="113.97" y="437.29" width="2.67" height="0.9" fill="#0a0a70"/>
<rect x="117.44" y="424" width="3.47" height="12.68" fill="#1818e6"/>
<rect x="120.1" y="424" width="0.8" height="12.68" fill="#6c6cf5"/>
<rect x="117.44" y="424" width="0.9" height="12.68" fill="#0c0c8a"/>
<rect x="117.44" y="435.78" width="2.67" height="0.9" fill="#0a0a70"/>
<rect x="120.9" y="424" width="3.47" height="12.08" fill="#1818e6"/>
<rect x="123.57" y="424" width="0.8" height="12.08" fill="#6c6cf5"/>
<rect x="120.9" y="424" width="0.9" height="12.08" fill="#0c0c8a"/>
<rect x="120.9" y="435.18" width="2.67" height="0.9" fill="#0a0a70"/>
<rect x="124.37" y="424" width="3.47" height="11.11" fill="#1818e6"/>
<rect x="127.04" y="424" width="0.8" height="11.11" fill="#6c6cf5"/>
<rect x="124.37" y="424" width="0.9" height="11.11" fill="#0c0c8a"/>
<rect x="124.37" y="434.21" width="2.67" height="0.9" fill="#0a0a70"/>
<rect x="127.84" y="424" width="3.47" height="9.97" fill="#1818e6"/>
<rect x="130.51" y="424" width="0.8" height="9.97" fill="#6c6cf5"/>
<rect x="127.84" y="424" width="0.9" height="9.97" fill="#0c0c8a"/>
<rect x="127.84" y="433.07" width="2.67" height="0.9" fill="#0a0a70"/>
<rect x="131.31" y="424" width="3.47" height="9.3" fill="#1818e6"/>
<rect x="133.98" y="424" width="0.8" height="9.3" fill="#6c6cf5"/>
<rect x="131.31" y="424" width="0.9" height="9.3" fill="#0c0c8a"/>
<rect x="131.31" y="432.4" width="2.67" height="0.9" fill="#0a0a70"/>
<rect x="134.78" y="424" width="3.47" height="6.52" fill="#1818e6"/>
<rect x="137.44" y="424" width="0.8" height="6.52" fill="#6c6cf5"/>
<rect x="134.78" y="424" width="0.9" height="6.52" fill="#0c0c8a"/>
<rect x="134.78" y="429.62" width="2.67" height="0.9" fill="#0a0a70"/>
<rect x="138.24" y="424" width="3.47" height="2.42" fill="#1818e6"/>
<rect x="140.91" y="424" width="0.8" height="2.42" fill="#6c6cf5"/>
<rect x="138.24" y="424" width="0.9" height="2.42" fill="#0c0c8a"/>
<rect x="138.24" y="425.52" width="2.67" height="0.9" fill="#0a0a70"/>
<rect x="141.71" y="424" width="3.47" height="1.69" fill="#1818e6"/>
<rect x="144.38" y="424" width="0.8" height="1.69" fill="#6c6cf5"/>
<rect x="141.71" y="424" width="0.9" height="1.69" fill="#0c0c8a"/>
<rect x="141.71" y="424.79" width="2.67" height="0.9" fill="#0a0a70"/>
<rect x="148.65" y="423.4" width="3.47" height="0.6" fill="#1818e6"/>
<rect x="151.32" y="423.4" width="0.8" height="0.6" fill="#6c6cf5"/>
<rect x="148.65" y="423.4" width="0.9" height="0.6" fill="#0c0c8a"/>
<rect x="152.12" y="423.09" width="3.47" height="0.91" fill="#1818e6"/>
<rect x="154.78" y="423.09" width="0.8" height="0.91" fill="#6c6cf5"/>
<rect x="152.12" y="423.09" width="0.9" height="0.91" fill="#0c0c8a"/>
<rect x="152.12" y="423.09" width="2.67" height="0.9" fill="#0a0a70"/>
<rect x="155.58" y="419.41" width="3.47" height="4.59" fill="#1818e6"/>
<rect x="158.25" y="419.41" width="0.8" height="4.59" fill="#6c6cf5"/>
<rect x="155.58" y="419.41" width="0.9" height="4.59" fill="#0c0c8a"/>
<rect x="155.58" y="419.41" width="2.67" height="0.9" fill="#0a0a70"/>
<rect x="159.05" y="417.36" width="3.47" height="6.64" fill="#1818e6"/>
<rect x="161.72" y="417.36" width="0.8" height="6.64" fill="#6c6cf5"/>
<rect x="159.05" y="417.36" width="0.9" height="6.64" fill="#0c0c8a"/>
<rect x="159.05" y="417.36" width="2.67" height="0.9" fill="#0a0a70"/>
<rect x="162.52" y="416.75" width="3.47" height="7.25" fill="#1818e6"/>
<rect x="165.19" y="416.75" width="0.8" height="7.25" fill="#6c6cf5"/>
<rect x="162.52" y="416.75" width="0.9" height="7.25" fill="#0c0c8a"/>
<rect x="162.52" y="416.75" width="2.67" height="0.9" fill="#0a0a70"/>
<rect x="165.99" y="414.94" width="3.47" height="9.06" fill="#1818e6"/>
<rect x="168.66" y="414.94" width="0.8" height="9.06" fill="#6c6cf5"/>
<rect x="165.99" y="414.94" width="0.9" height="9.06" fill="#0c0c8a"/>
<rect x="165.99" y="414.94" width="2.67" height="0.9" fill="#0a0a70"/>
<rect x="169.46" y="413.19" width="3.47" height="10.81" fill="#1818e6"/>
<rect x="172.12" y="413.19" width="0.8" height="10.81" fill="#6c6cf5"/>
<rect x="169.46" y="413.19" width="0.9" height="10.81" fill="#0c0c8a"/>
<rect x="169.46" y="413.19" width="2.67" height="0.9" fill="#0a0a70"/>
<rect x="172.92" y="411.92" width="3.47" height="12.08" fill="#1818e6"/>
<rect x="175.59" y="411.92" width="0.8" height="12.08" fill="#6c6cf5"/>
<rect x="172.92" y="411.92" width="0.9" height="12.08" fill="#0c0c8a"/>
<rect x="172.92" y="411.92" width="2.67" height="0.9" fill="#0a0a70"/>
<rect x="176.39" y="410.41" width="3.47" height="13.59" fill="#1818e6"/>
<rect x="179.06" y="410.41" width="0.8" height="13.59" fill="#6c6cf5"/>
<rect x="176.39" y="410.41" width="0.9" height="13.59" fill="#0c0c8a"/>
<rect x="176.39" y="410.41" width="2.67" height="0.9" fill="#0a0a70"/>
<rect x="179.86" y="408.9" width="3.47" height="15.1" fill="#1818e6"/>
<rect x="182.53" y="408.9" width="0.8" height="15.1" fill="#6c6cf5"/>
<rect x="179.86" y="408.9" width="0.9" height="15.1" fill="#0c0c8a"/>
<rect x="179.86" y="408.9" width="2.67" height="0.9" fill="#0a0a70"/>
<rect x="183.33" y="408.3" width="3.47" height="15.7" fill="#1818e6"/>
<rect x="186" y="408.3" width="0.8" height="15.7" fill="#6c6cf5"/>
<rect x="183.33" y="408.3" width="0.9" height="15.7" fill="#0c0c8a"/>
<rect x="183.33" y="408.3" width="2.67" height="0.9" fill="#0a0a70"/>
<rect x="186.8" y="398.63" width="3.47" height="25.37" fill="#1818e6"/>
<rect x="189.46" y="398.63" width="0.8" height="25.37" fill="#6c6cf5"/>
<rect x="186.8" y="398.63" width="0.9" height="25.37" fill="#0c0c8a"/>
<rect x="186.8" y="398.63" width="2.67" height="0.9" fill="#0a0a70"/>
<rect x="190.26" y="393.8" width="3.47" height="30.2" fill="#1818e6"/>
<rect x="192.93" y="393.8" width="0.8" height="30.2" fill="#6c6cf5"/>
<rect x="190.26" y="393.8" width="0.9" height="30.2" fill="#0c0c8a"/>
<rect x="190.26" y="393.8" width="2.67" height="0.9" fill="#0a0a70"/>
<rect x="193.73" y="377.79" width="3.47" height="46.21" fill="#1818e6"/>
<rect x="196.4" y="377.79" width="0.8" height="46.21" fill="#6c6cf5"/>
<rect x="193.73" y="377.79" width="0.9" height="46.21" fill="#0c0c8a"/>
<rect x="193.73" y="377.79" width="2.67" height="0.9" fill="#0a0a70"/>
<rect x="200.7" y="424" width="3.46" height="16.91" fill="#a31111"/>
<rect x="203.36" y="424" width="0.8" height="16.91" fill="#d26262"/>
<rect x="200.7" y="424" width="0.9" height="16.91" fill="#6a0808"/>
<rect x="200.7" y="440.01" width="2.66" height="0.9" fill="#500505"/>
<rect x="204.16" y="424" width="3.46" height="8.46" fill="#a31111"/>
<rect x="206.81" y="424" width="0.8" height="8.46" fill="#d26262"/>
<rect x="204.16" y="424" width="0.9" height="8.46" fill="#6a0808"/>
<rect x="204.16" y="431.56" width="2.66" height="0.9" fill="#500505"/>
<rect x="207.61" y="424" width="3.46" height="4.83" fill="#a31111"/>
<rect x="210.27" y="424" width="0.8" height="4.83" fill="#d26262"/>
<rect x="207.61" y="424" width="0.9" height="4.83" fill="#6a0808"/>
<rect x="207.61" y="427.93" width="2.66" height="0.9" fill="#500505"/>
<rect x="211.07" y="424" width="3.46" height="3.02" fill="#a31111"/>
<rect x="213.73" y="424" width="0.8" height="3.02" fill="#d26262"/>
<rect x="211.07" y="424" width="0.9" height="3.02" fill="#6a0808"/>
<rect x="211.07" y="426.12" width="2.66" height="0.9" fill="#500505"/>
<rect x="214.53" y="424" width="3.46" height="1.81" fill="#a31111"/>
<rect x="217.19" y="424" width="0.8" height="1.81" fill="#d26262"/>
<rect x="214.53" y="424" width="0.9" height="1.81" fill="#6a0808"/>
<rect x="214.53" y="424.91" width="2.66" height="0.9" fill="#500505"/>
<rect x="217.99" y="424" width="3.46" height="0.91" fill="#a31111"/>
<rect x="220.64" y="424" width="0.8" height="0.91" fill="#d26262"/>
<rect x="217.99" y="424" width="0.9" height="0.91" fill="#6a0808"/>
<rect x="217.99" y="424.01" width="2.66" height="0.9" fill="#500505"/>
<rect x="221.44" y="395.61" width="3.46" height="28.39" fill="#a31111"/>
<rect x="224.1" y="395.61" width="0.8" height="28.39" fill="#d26262"/>
<rect x="221.44" y="395.61" width="0.9" height="28.39" fill="#6a0808"/>
<rect x="221.44" y="395.61" width="2.66" height="0.9" fill="#500505"/>
<line x1="43.6" y1="424" x2="225.8" y2="424" stroke="#1a1a1a" stroke-width="1.6"/>
<line x1="42.8" y1="484.4" x2="225.8" y2="484.4" stroke="#111" stroke-width="1.6"/>
<line x1="43.6" y1="363.6" x2="43.6" y2="485.2" stroke="#222" stroke-width="1.6"/>
<line x1="39" y1="363.6" x2="43.6" y2="363.6" stroke="#1a1a1a" stroke-width="1.2"/>
<text x="21.6" y="366.3" class="tk" textLength="15.3" lengthAdjust="spacingAndGlyphs">100</text>
<line x1="39" y1="393.8" x2="43.6" y2="393.8" stroke="#1a1a1a" stroke-width="1.2"/>
<text x="26.7" y="396.5" class="tk" textLength="10.2" lengthAdjust="spacingAndGlyphs">50</text>
<line x1="39" y1="424" x2="43.6" y2="424" stroke="#1a1a1a" stroke-width="1.2"/>
<text x="31.8" y="426.7" class="tk" textLength="5.1" lengthAdjust="spacingAndGlyphs">0</text>
<line x1="39" y1="454.2" x2="43.6" y2="454.2" stroke="#1a1a1a" stroke-width="1.2"/>
<text x="23.8" y="456.9" class="tk" textLength="13.1" lengthAdjust="spacingAndGlyphs">-50</text>
<line x1="39" y1="484.4" x2="43.6" y2="484.4" stroke="#1a1a1a" stroke-width="1.2"/>
<text x="18.7" y="487.1" class="tk" textLength="18.2" lengthAdjust="spacingAndGlyphs">-100</text>
<text x="116.6" y="351.6" class="ti" textLength="28.8" lengthAdjust="spacingAndGlyphs">OPG</text>
<text x="115.3" y="498.6" class="pt" textLength="39" lengthAdjust="spacingAndGlyphs">Patients</text>
<text transform="translate(13.2,423.7) rotate(-90)" text-anchor="middle" class="yl" textLength="117.6" lengthAdjust="spacingAndGlyphs">% Change from baseline</text>
<rect x="260.3" y="425" width="3.58" height="21.77" fill="#1aae1a"/>
<rect x="263.08" y="425" width="0.8" height="21.77" fill="#62dc62"/>
<rect x="260.3" y="425" width="0.9" height="21.77" fill="#148a14"/>
<rect x="260.3" y="445.87" width="2.78" height="0.9" fill="#0d620d"/>
<rect x="263.88" y="425" width="3.58" height="20.79" fill="#1aae1a"/>
<rect x="266.67" y="425" width="0.8" height="20.79" fill="#62dc62"/>
<rect x="263.88" y="425" width="0.9" height="20.79" fill="#148a14"/>
<rect x="263.88" y="444.89" width="2.78" height="0.9" fill="#0d620d"/>
<rect x="267.47" y="425" width="3.58" height="8.43" fill="#1aae1a"/>
<rect x="270.25" y="425" width="0.8" height="8.43" fill="#62dc62"/>
<rect x="267.47" y="425" width="0.9" height="8.43" fill="#148a14"/>
<rect x="267.47" y="432.53" width="2.78" height="0.9" fill="#0d620d"/>
<rect x="271.05" y="425" width="3.58" height="6.58" fill="#1aae1a"/>
<rect x="273.83" y="425" width="0.8" height="6.58" fill="#62dc62"/>
<rect x="271.05" y="425" width="0.9" height="6.58" fill="#148a14"/>
<rect x="271.05" y="430.68" width="2.78" height="0.9" fill="#0d620d"/>
<rect x="274.63" y="425" width="3.58" height="5.72" fill="#1aae1a"/>
<rect x="277.42" y="425" width="0.8" height="5.72" fill="#62dc62"/>
<rect x="274.63" y="425" width="0.9" height="5.72" fill="#148a14"/>
<rect x="274.63" y="429.82" width="2.78" height="0.9" fill="#0d620d"/>
<rect x="278.22" y="425" width="3.58" height="5.29" fill="#1aae1a"/>
<rect x="281" y="425" width="0.8" height="5.29" fill="#62dc62"/>
<rect x="278.22" y="425" width="0.9" height="5.29" fill="#148a14"/>
<rect x="278.22" y="429.39" width="2.78" height="0.9" fill="#0d620d"/>
<rect x="281.8" y="425" width="3.58" height="4" fill="#1aae1a"/>
<rect x="284.58" y="425" width="0.8" height="4" fill="#62dc62"/>
<rect x="281.8" y="425" width="0.9" height="4" fill="#148a14"/>
<rect x="281.8" y="428.1" width="2.78" height="0.9" fill="#0d620d"/>
<rect x="285.38" y="425" width="3.58" height="3.08" fill="#1aae1a"/>
<rect x="288.17" y="425" width="0.8" height="3.08" fill="#62dc62"/>
<rect x="285.38" y="425" width="0.9" height="3.08" fill="#148a14"/>
<rect x="285.38" y="427.18" width="2.78" height="0.9" fill="#0d620d"/>
<rect x="288.97" y="425" width="3.58" height="1.84" fill="#1aae1a"/>
<rect x="291.75" y="425" width="0.8" height="1.84" fill="#62dc62"/>
<rect x="288.97" y="425" width="0.9" height="1.84" fill="#148a14"/>
<rect x="288.97" y="425.95" width="2.78" height="0.9" fill="#0d620d"/>
<rect x="292.55" y="425" width="3.58" height="1.11" fill="#1aae1a"/>
<rect x="295.33" y="425" width="0.8" height="1.11" fill="#62dc62"/>
<rect x="292.55" y="425" width="0.9" height="1.11" fill="#148a14"/>
<rect x="292.55" y="425.21" width="2.78" height="0.9" fill="#0d620d"/>
<rect x="296.13" y="425" width="3.58" height="0.61" fill="#1aae1a"/>
<rect x="298.92" y="425" width="0.8" height="0.61" fill="#62dc62"/>
<rect x="296.13" y="425" width="0.9" height="0.61" fill="#148a14"/>
<rect x="303.3" y="420.39" width="3.58" height="4.61" fill="#1aae1a"/>
<rect x="306.08" y="420.39" width="0.8" height="4.61" fill="#62dc62"/>
<rect x="303.3" y="420.39" width="0.9" height="4.61" fill="#148a14"/>
<rect x="303.3" y="420.39" width="2.78" height="0.9" fill="#0d620d"/>
<rect x="306.88" y="420.08" width="3.58" height="4.92" fill="#1aae1a"/>
<rect x="309.67" y="420.08" width="0.8" height="4.92" fill="#62dc62"/>
<rect x="306.88" y="420.08" width="0.9" height="4.92" fill="#148a14"/>
<rect x="306.88" y="420.08" width="2.78" height="0.9" fill="#0d620d"/>
<rect x="310.47" y="418.97" width="3.58" height="6.03" fill="#1aae1a"/>
<rect x="313.25" y="418.97" width="0.8" height="6.03" fill="#62dc62"/>
<rect x="310.47" y="418.97" width="0.9" height="6.03" fill="#148a14"/>
<rect x="310.47" y="418.97" width="2.78" height="0.9" fill="#0d620d"/>
<rect x="314.05" y="416.02" width="3.58" height="8.98" fill="#1aae1a"/>
<rect x="316.83" y="416.02" width="0.8" height="8.98" fill="#62dc62"/>
<rect x="314.05" y="416.02" width="0.9" height="8.98" fill="#148a14"/>
<rect x="314.05" y="416.02" width="2.78" height="0.9" fill="#0d620d"/>
<rect x="317.63" y="407.29" width="3.58" height="17.71" fill="#1aae1a"/>
<rect x="320.42" y="407.29" width="0.8" height="17.71" fill="#62dc62"/>
<rect x="317.63" y="407.29" width="0.9" height="17.71" fill="#148a14"/>
<rect x="317.63" y="407.29" width="2.78" height="0.9" fill="#0d620d"/>
<rect x="321.22" y="405.94" width="3.58" height="19.07" fill="#1aae1a"/>
<rect x="324" y="405.94" width="0.8" height="19.07" fill="#62dc62"/>
<rect x="321.22" y="405.94" width="0.9" height="19.07" fill="#148a14"/>
<rect x="321.22" y="405.94" width="2.78" height="0.9" fill="#0d620d"/>
<rect x="328" y="425" width="3.56" height="20.91" fill="#1818e6"/>
<rect x="330.76" y="425" width="0.8" height="20.91" fill="#6c6cf5"/>
<rect x="328" y="425" width="0.9" height="20.91" fill="#0c0c8a"/>
<rect x="328" y="445.01" width="2.76" height="0.9" fill="#0a0a70"/>
<rect x="331.56" y="425" width="3.56" height="16.97" fill="#1818e6"/>
<rect x="334.33" y="425" width="0.8" height="16.97" fill="#6c6cf5"/>
<rect x="331.56" y="425" width="0.9" height="16.97" fill="#0c0c8a"/>
<rect x="331.56" y="441.07" width="2.76" height="0.9" fill="#0a0a70"/>
<rect x="335.13" y="425" width="3.56" height="8.61" fill="#1818e6"/>
<rect x="337.89" y="425" width="0.8" height="8.61" fill="#6c6cf5"/>
<rect x="335.13" y="425" width="0.9" height="8.61" fill="#0c0c8a"/>
<rect x="335.13" y="432.71" width="2.76" height="0.9" fill="#0a0a70"/>
<rect x="338.69" y="425" width="3.56" height="7.81" fill="#1818e6"/>
<rect x="341.46" y="425" width="0.8" height="7.81" fill="#6c6cf5"/>
<rect x="338.69" y="425" width="0.9" height="7.81" fill="#0c0c8a"/>
<rect x="338.69" y="431.91" width="2.76" height="0.9" fill="#0a0a70"/>
<rect x="342.26" y="425" width="3.56" height="6.76" fill="#1818e6"/>
<rect x="345.02" y="425" width="0.8" height="6.76" fill="#6c6cf5"/>
<rect x="342.26" y="425" width="0.9" height="6.76" fill="#0c0c8a"/>
<rect x="342.26" y="430.87" width="2.76" height="0.9" fill="#0a0a70"/>
<rect x="345.82" y="425" width="3.56" height="5.35" fill="#1818e6"/>
<rect x="348.58" y="425" width="0.8" height="5.35" fill="#6c6cf5"/>
<rect x="345.82" y="425" width="0.9" height="5.35" fill="#0c0c8a"/>
<rect x="345.82" y="429.45" width="2.76" height="0.9" fill="#0a0a70"/>
<rect x="349.38" y="425" width="3.56" height="3.87" fill="#1818e6"/>
<rect x="352.15" y="425" width="0.8" height="3.87" fill="#6c6cf5"/>
<rect x="349.38" y="425" width="0.9" height="3.87" fill="#0c0c8a"/>
<rect x="349.38" y="427.97" width="2.76" height="0.9" fill="#0a0a70"/>
<rect x="352.95" y="425" width="3.56" height="2.46" fill="#1818e6"/>
<rect x="355.71" y="425" width="0.8" height="2.46" fill="#6c6cf5"/>
<rect x="352.95" y="425" width="0.9" height="2.46" fill="#0c0c8a"/>
<rect x="352.95" y="426.56" width="2.76" height="0.9" fill="#0a0a70"/>
<rect x="356.51" y="425" width="3.56" height="1.48" fill="#1818e6"/>
<rect x="359.28" y="425" width="0.8" height="1.48" fill="#6c6cf5"/>
<rect x="356.51" y="425" width="0.9" height="1.48" fill="#0c0c8a"/>
<rect x="356.51" y="425.58" width="2.76" height="0.9" fill="#0a0a70"/>
<rect x="360.08" y="425" width="3.56" height="1.72" fill="#1818e6"/>
<rect x="362.84" y="425" width="0.8" height="1.72" fill="#6c6cf5"/>
<rect x="360.08" y="425" width="0.9" height="1.72" fill="#0c0c8a"/>
<rect x="360.08" y="425.82" width="2.76" height="0.9" fill="#0a0a70"/>
<rect x="374.33" y="420.08" width="3.56" height="4.92" fill="#1818e6"/>
<rect x="377.1" y="420.08" width="0.8" height="4.92" fill="#6c6cf5"/>
<rect x="374.33" y="420.08" width="0.9" height="4.92" fill="#0c0c8a"/>
<rect x="374.33" y="420.08" width="2.76" height="0.9" fill="#0a0a70"/>
<rect x="377.9" y="419.77" width="3.56" height="5.23" fill="#1818e6"/>
<rect x="380.66" y="419.77" width="0.8" height="5.23" fill="#6c6cf5"/>
<rect x="377.9" y="419.77" width="0.9" height="5.23" fill="#0c0c8a"/>
<rect x="377.9" y="419.77" width="2.76" height="0.9" fill="#0a0a70"/>
<rect x="381.46" y="419.46" width="3.56" height="5.54" fill="#1818e6"/>
<rect x="384.22" y="419.46" width="0.8" height="5.54" fill="#6c6cf5"/>
<rect x="381.46" y="419.46" width="0.9" height="5.54" fill="#0c0c8a"/>
<rect x="381.46" y="419.46" width="2.76" height="0.9" fill="#0a0a70"/>
<rect x="385.02" y="418.24" width="3.56" height="6.76" fill="#1818e6"/>
<rect x="387.79" y="418.24" width="0.8" height="6.76" fill="#6c6cf5"/>
<rect x="385.02" y="418.24" width="0.9" height="6.76" fill="#0c0c8a"/>
<rect x="385.02" y="418.24" width="2.76" height="0.9" fill="#0a0a70"/>
<rect x="388.59" y="409.87" width="3.56" height="15.13" fill="#1818e6"/>
<rect x="391.35" y="409.87" width="0.8" height="15.13" fill="#6c6cf5"/>
<rect x="388.59" y="409.87" width="0.9" height="15.13" fill="#0c0c8a"/>
<rect x="388.59" y="409.87" width="2.76" height="0.9" fill="#0a0a70"/>
<rect x="392.15" y="409.87" width="3.56" height="15.13" fill="#1818e6"/>
<rect x="394.92" y="409.87" width="0.8" height="15.13" fill="#6c6cf5"/>
<rect x="392.15" y="409.87" width="0.9" height="15.13" fill="#0c0c8a"/>
<rect x="392.15" y="409.87" width="2.76" height="0.9" fill="#0a0a70"/>
<rect x="395.72" y="408.46" width="3.56" height="16.54" fill="#1818e6"/>
<rect x="398.48" y="408.46" width="0.8" height="16.54" fill="#6c6cf5"/>
<rect x="395.72" y="408.46" width="0.9" height="16.54" fill="#0c0c8a"/>
<rect x="395.72" y="408.46" width="2.76" height="0.9" fill="#0a0a70"/>
<rect x="399.28" y="406.55" width="3.56" height="18.45" fill="#1818e6"/>
<rect x="402.04" y="406.55" width="0.8" height="18.45" fill="#6c6cf5"/>
<rect x="399.28" y="406.55" width="0.9" height="18.45" fill="#0c0c8a"/>
<rect x="399.28" y="406.55" width="2.76" height="0.9" fill="#0a0a70"/>
<rect x="402.84" y="404.52" width="3.56" height="20.48" fill="#1818e6"/>
<rect x="405.61" y="404.52" width="0.8" height="20.48" fill="#6c6cf5"/>
<rect x="402.84" y="404.52" width="0.9" height="20.48" fill="#0c0c8a"/>
<rect x="402.84" y="404.52" width="2.76" height="0.9" fill="#0a0a70"/>
<rect x="406.41" y="401.88" width="3.56" height="23.12" fill="#1818e6"/>
<rect x="409.17" y="401.88" width="0.8" height="23.12" fill="#6c6cf5"/>
<rect x="406.41" y="401.88" width="0.9" height="23.12" fill="#0c0c8a"/>
<rect x="406.41" y="401.88" width="2.76" height="0.9" fill="#0a0a70"/>
<rect x="409.97" y="400.09" width="3.56" height="24.91" fill="#1818e6"/>
<rect x="412.74" y="400.09" width="0.8" height="24.91" fill="#6c6cf5"/>
<rect x="409.97" y="400.09" width="0.9" height="24.91" fill="#0c0c8a"/>
<rect x="409.97" y="400.09" width="2.76" height="0.9" fill="#0a0a70"/>
<rect x="413.54" y="389.94" width="3.56" height="35.05" fill="#1818e6"/>
<rect x="416.3" y="389.94" width="0.8" height="35.05" fill="#6c6cf5"/>
<rect x="413.54" y="389.94" width="0.9" height="35.05" fill="#0c0c8a"/>
<rect x="413.54" y="389.94" width="2.76" height="0.9" fill="#0a0a70"/>
<rect x="420.2" y="425" width="3.54" height="2.77" fill="#a31111"/>
<rect x="422.94" y="425" width="0.8" height="2.77" fill="#d26262"/>
<rect x="420.2" y="425" width="0.9" height="2.77" fill="#6a0808"/>
<rect x="420.2" y="426.87" width="2.74" height="0.9" fill="#500505"/>
<rect x="423.74" y="421.62" width="3.54" height="3.38" fill="#a31111"/>
<rect x="426.49" y="421.62" width="0.8" height="3.38" fill="#d26262"/>
<rect x="423.74" y="421.62" width="0.9" height="3.38" fill="#6a0808"/>
<rect x="423.74" y="421.62" width="2.74" height="0.9" fill="#500505"/>
<rect x="427.29" y="420.2" width="3.54" height="4.8" fill="#a31111"/>
<rect x="430.03" y="420.2" width="0.8" height="4.8" fill="#d26262"/>
<rect x="427.29" y="420.2" width="0.9" height="4.8" fill="#6a0808"/>
<rect x="427.29" y="420.2" width="2.74" height="0.9" fill="#500505"/>
<rect x="430.83" y="419.9" width="3.54" height="5.1" fill="#a31111"/>
<rect x="433.57" y="419.9" width="0.8" height="5.1" fill="#d26262"/>
<rect x="430.83" y="419.9" width="0.9" height="5.1" fill="#6a0808"/>
<rect x="430.83" y="419.9" width="2.74" height="0.9" fill="#500505"/>
<rect x="434.37" y="417.99" width="3.54" height="7.01" fill="#a31111"/>
<rect x="437.11" y="417.99" width="0.8" height="7.01" fill="#d26262"/>
<rect x="434.37" y="417.99" width="0.9" height="7.01" fill="#6a0808"/>
<rect x="434.37" y="417.99" width="2.74" height="0.9" fill="#500505"/>
<rect x="437.91" y="413.31" width="3.54" height="11.69" fill="#a31111"/>
<rect x="440.66" y="413.31" width="0.8" height="11.69" fill="#d26262"/>
<rect x="437.91" y="413.31" width="0.9" height="11.69" fill="#6a0808"/>
<rect x="437.91" y="413.31" width="2.74" height="0.9" fill="#500505"/>
<rect x="441.46" y="409.38" width="3.54" height="15.62" fill="#a31111"/>
<rect x="444.2" y="409.38" width="0.8" height="15.62" fill="#d26262"/>
<rect x="441.46" y="409.38" width="0.9" height="15.62" fill="#6a0808"/>
<rect x="441.46" y="409.38" width="2.74" height="0.9" fill="#500505"/>
<line x1="259.5" y1="425" x2="446.4" y2="425" stroke="#1a1a1a" stroke-width="1.6"/>
<line x1="258.7" y1="486.5" x2="446.4" y2="486.5" stroke="#111" stroke-width="1.6"/>
<line x1="259.5" y1="363.5" x2="259.5" y2="487.3" stroke="#222" stroke-width="1.6"/>
<line x1="254.9" y1="363.5" x2="259.5" y2="363.5" stroke="#1a1a1a" stroke-width="1.2"/>
<text x="237.5" y="366.2" class="tk" textLength="15.3" lengthAdjust="spacingAndGlyphs">100</text>
<line x1="254.9" y1="394.25" x2="259.5" y2="394.25" stroke="#1a1a1a" stroke-width="1.2"/>
<text x="242.6" y="396.95" class="tk" textLength="10.2" lengthAdjust="spacingAndGlyphs">50</text>
<line x1="254.9" y1="425" x2="259.5" y2="425" stroke="#1a1a1a" stroke-width="1.2"/>
<text x="247.7" y="427.7" class="tk" textLength="5.1" lengthAdjust="spacingAndGlyphs">0</text>
<line x1="254.9" y1="455.75" x2="259.5" y2="455.75" stroke="#1a1a1a" stroke-width="1.2"/>
<text x="239.7" y="458.45" class="tk" textLength="13.1" lengthAdjust="spacingAndGlyphs">-50</text>
<line x1="254.9" y1="486.5" x2="259.5" y2="486.5" stroke="#1a1a1a" stroke-width="1.2"/>
<text x="234.6" y="489.2" class="tk" textLength="18.2" lengthAdjust="spacingAndGlyphs">-100</text>
<text x="318" y="351.8" class="ti" textLength="65.5" lengthAdjust="spacingAndGlyphs">Sclerostin</text>
<text x="333.3" y="500.9" class="pt" textLength="39.5" lengthAdjust="spacingAndGlyphs">Patients</text>
<rect x="484" y="462.5" width="3.5" height="10.21" fill="#1aae1a"/>
<rect x="486.7" y="462.5" width="0.8" height="10.21" fill="#62dc62"/>
<rect x="484" y="462.5" width="0.9" height="10.21" fill="#148a14"/>
<rect x="484" y="471.81" width="2.7" height="0.9" fill="#0d620d"/>
<rect x="487.5" y="462.5" width="3.5" height="9.07" fill="#1aae1a"/>
<rect x="490.2" y="462.5" width="0.8" height="9.07" fill="#62dc62"/>
<rect x="487.5" y="462.5" width="0.9" height="9.07" fill="#148a14"/>
<rect x="487.5" y="470.67" width="2.7" height="0.9" fill="#0d620d"/>
<rect x="491" y="462.5" width="3.5" height="8.75" fill="#1aae1a"/>
<rect x="493.7" y="462.5" width="0.8" height="8.75" fill="#62dc62"/>
<rect x="491" y="462.5" width="0.9" height="8.75" fill="#148a14"/>
<rect x="491" y="470.35" width="2.7" height="0.9" fill="#0d620d"/>
<rect x="494.5" y="462.5" width="3.5" height="7.94" fill="#1aae1a"/>
<rect x="497.2" y="462.5" width="0.8" height="7.94" fill="#62dc62"/>
<rect x="494.5" y="462.5" width="0.9" height="7.94" fill="#148a14"/>
<rect x="494.5" y="469.54" width="2.7" height="0.9" fill="#0d620d"/>
<rect x="498" y="462.5" width="3.5" height="6.64" fill="#1aae1a"/>
<rect x="500.7" y="462.5" width="0.8" height="6.64" fill="#62dc62"/>
<rect x="498" y="462.5" width="0.9" height="6.64" fill="#148a14"/>
<rect x="498" y="468.24" width="2.7" height="0.9" fill="#0d620d"/>
<rect x="501.5" y="462.5" width="3.5" height="3.08" fill="#1aae1a"/>
<rect x="504.2" y="462.5" width="0.8" height="3.08" fill="#62dc62"/>
<rect x="501.5" y="462.5" width="0.9" height="3.08" fill="#148a14"/>
<rect x="501.5" y="464.68" width="2.7" height="0.9" fill="#0d620d"/>
<rect x="505" y="462.5" width="3.5" height="2.43" fill="#1aae1a"/>
<rect x="507.7" y="462.5" width="0.8" height="2.43" fill="#62dc62"/>
<rect x="505" y="462.5" width="0.9" height="2.43" fill="#148a14"/>
<rect x="505" y="464.03" width="2.7" height="0.9" fill="#0d620d"/>
<rect x="526" y="462.01" width="3.5" height="0.49" fill="#1aae1a"/>
<rect x="528.7" y="462.01" width="0.8" height="0.49" fill="#62dc62"/>
<rect x="526" y="462.01" width="0.9" height="0.49" fill="#148a14"/>
<rect x="529.5" y="461.69" width="3.5" height="0.81" fill="#1aae1a"/>
<rect x="532.2" y="461.69" width="0.8" height="0.81" fill="#62dc62"/>
<rect x="529.5" y="461.69" width="0.9" height="0.81" fill="#148a14"/>
<rect x="533" y="450.03" width="3.5" height="12.47" fill="#1aae1a"/>
<rect x="535.7" y="450.03" width="0.8" height="12.47" fill="#62dc62"/>
<rect x="533" y="450.03" width="0.9" height="12.47" fill="#148a14"/>
<rect x="533" y="450.03" width="2.7" height="0.9" fill="#0d620d"/>
<rect x="536.5" y="434.47" width="3.5" height="28.03" fill="#1aae1a"/>
<rect x="539.2" y="434.47" width="0.8" height="28.03" fill="#62dc62"/>
<rect x="536.5" y="434.47" width="0.9" height="28.03" fill="#148a14"/>
<rect x="536.5" y="434.47" width="2.7" height="0.9" fill="#0d620d"/>
<rect x="540" y="418.27" width="3.5" height="44.23" fill="#1aae1a"/>
<rect x="542.7" y="418.27" width="0.8" height="44.23" fill="#62dc62"/>
<rect x="540" y="418.27" width="0.9" height="44.23" fill="#148a14"/>
<rect x="540" y="418.27" width="2.7" height="0.9" fill="#0d620d"/>
<rect x="543.5" y="365.3" width="3.5" height="97.2" fill="#1aae1a"/>
<rect x="546.2" y="365.3" width="0.8" height="97.2" fill="#62dc62"/>
<rect x="543.5" y="365.3" width="0.9" height="97.2" fill="#148a14"/>
<rect x="543.5" y="365.3" width="2.7" height="0.9" fill="#0d620d"/>
<rect x="549.6" y="462.5" width="3.48" height="11.83" fill="#1818e6"/>
<rect x="552.28" y="462.5" width="0.8" height="11.83" fill="#6c6cf5"/>
<rect x="549.6" y="462.5" width="0.9" height="11.83" fill="#0c0c8a"/>
<rect x="549.6" y="473.43" width="2.68" height="0.9" fill="#0a0a70"/>
<rect x="553.08" y="462.5" width="3.48" height="2.75" fill="#1818e6"/>
<rect x="555.77" y="462.5" width="0.8" height="2.75" fill="#6c6cf5"/>
<rect x="553.08" y="462.5" width="0.9" height="2.75" fill="#0c0c8a"/>
<rect x="553.08" y="464.35" width="2.68" height="0.9" fill="#0a0a70"/>
<rect x="633.22" y="442.9" width="3.48" height="19.6" fill="#1818e6"/>
<rect x="635.9" y="442.9" width="0.8" height="19.6" fill="#6c6cf5"/>
<rect x="633.22" y="442.9" width="0.9" height="19.6" fill="#0c0c8a"/>
<rect x="633.22" y="442.9" width="2.68" height="0.9" fill="#0a0a70"/>
<rect x="639.9" y="462.5" width="3.47" height="10.04" fill="#a31111"/>
<rect x="642.57" y="462.5" width="0.8" height="10.04" fill="#d26262"/>
<rect x="639.9" y="462.5" width="0.9" height="10.04" fill="#6a0808"/>
<rect x="639.9" y="471.64" width="2.67" height="0.9" fill="#500505"/>
<rect x="643.37" y="462.5" width="3.47" height="2.75" fill="#a31111"/>
<rect x="646.04" y="462.5" width="0.8" height="2.75" fill="#d26262"/>
<rect x="643.37" y="462.5" width="0.9" height="2.75" fill="#6a0808"/>
<rect x="643.37" y="464.35" width="2.67" height="0.9" fill="#500505"/>
<rect x="650.31" y="454.89" width="3.47" height="7.61" fill="#a31111"/>
<rect x="652.99" y="454.89" width="0.8" height="7.61" fill="#d26262"/>
<rect x="650.31" y="454.89" width="0.9" height="7.61" fill="#6a0808"/>
<rect x="650.31" y="454.89" width="2.67" height="0.9" fill="#500505"/>
<rect x="653.79" y="392.03" width="3.47" height="70.47" fill="#a31111"/>
<rect x="656.46" y="392.03" width="0.8" height="70.47" fill="#d26262"/>
<rect x="653.79" y="392.03" width="0.9" height="70.47" fill="#6a0808"/>
<rect x="653.79" y="392.03" width="2.67" height="0.9" fill="#500505"/>
<rect x="657.26" y="380.85" width="3.47" height="81.65" fill="#a31111"/>
<rect x="659.93" y="380.85" width="0.8" height="81.65" fill="#d26262"/>
<rect x="657.26" y="380.85" width="0.9" height="81.65" fill="#6a0808"/>
<rect x="657.26" y="380.85" width="2.67" height="0.9" fill="#500505"/>
<rect x="660.73" y="365.62" width="3.47" height="96.88" fill="#a31111"/>
<rect x="663.4" y="365.62" width="0.8" height="96.88" fill="#d26262"/>
<rect x="660.73" y="365.62" width="0.9" height="96.88" fill="#6a0808"/>
<rect x="660.73" y="365.62" width="2.67" height="0.9" fill="#500505"/>
<line x1="483" y1="462.5" x2="665.4" y2="462.5" stroke="#1a1a1a" stroke-width="1.6"/>
<line x1="482.2" y1="486.8" x2="665.4" y2="486.8" stroke="#111" stroke-width="1.6"/>
<line x1="483" y1="365.3" x2="483" y2="487.6" stroke="#222" stroke-width="1.6"/>
<line x1="478.4" y1="365.3" x2="483" y2="365.3" stroke="#1a1a1a" stroke-width="1.2"/>
<text x="461" y="368" class="tk" textLength="15.3" lengthAdjust="spacingAndGlyphs">600</text>
<line x1="478.4" y1="397.7" x2="483" y2="397.7" stroke="#1a1a1a" stroke-width="1.2"/>
<text x="461" y="400.4" class="tk" textLength="15.3" lengthAdjust="spacingAndGlyphs">400</text>
<line x1="478.4" y1="430.1" x2="483" y2="430.1" stroke="#1a1a1a" stroke-width="1.2"/>
<text x="461" y="432.8" class="tk" textLength="15.3" lengthAdjust="spacingAndGlyphs">200</text>
<line x1="478.4" y1="462.5" x2="483" y2="462.5" stroke="#1a1a1a" stroke-width="1.2"/>
<text x="471.2" y="465.2" class="tk" textLength="5.1" lengthAdjust="spacingAndGlyphs">0</text>
<text x="554.9" y="349.5" class="ti" textLength="44.5" lengthAdjust="spacingAndGlyphs">RANKL</text>
<text x="546.3" y="499" class="pt" textLength="39" lengthAdjust="spacingAndGlyphs">Patients</text>
<text x="545.7" y="359.1" text-anchor="middle" class="nt">652</text>
<text x="664.4" y="359.1" text-anchor="middle" class="nt">1357</text>
<circle cx="545.3" cy="362.3" r="1.15" fill="#1a1a1a"/>
<circle cx="664" cy="362.3" r="1.15" fill="#1a1a1a"/>
<path d="M507.9,435.8 V433.6 H527 V435.8" fill="none" stroke="#151515" stroke-width="1.25"/>
<text x="516.9" y="426.8" text-anchor="middle" class="nt" font-weight="bold">¤</text>
<path d="M557.9,435.8 V433.6 H630.8 V435.8" fill="none" stroke="#151515" stroke-width="1.25"/>
<text x="594.5" y="427.8" text-anchor="middle" class="nt" font-weight="bold">#</text>
<rect x="32.6" y="526.8" width="15.6" height="7.4" fill="#1ec21e" stroke="#127012" stroke-width="0.8"/>
<text x="57.8" y="535" class="lg" textLength="119.6" lengthAdjust="spacingAndGlyphs">No concomitant BST</text>
<rect x="32.6" y="548" width="15.6" height="7" fill="#0a0af0" stroke="#06066e" stroke-width="0.8"/>
<text x="57.8" y="555.8" class="lg" textLength="70.6" lengthAdjust="spacingAndGlyphs">Denosumab</text>
<rect x="32.6" y="568.4" width="15.6" height="7" fill="#a20a0a" stroke="#4a0505" stroke-width="0.8"/>
<text x="57.8" y="576.2" class="lg" textLength="93.4" lengthAdjust="spacingAndGlyphs">Bisphosphonate</text>
<g stroke="#111" stroke-width="0.9" fill="none"><rect x="213.4" y="537.9" width="3.9" height="4.6" rx="1.2"/><path d="M212.6,537.1 L213.9,538.4 M218.1,537.1 L216.8,538.4 M212.6,543.3 L213.9,542 M218.1,543.3 L216.8,542"/></g>
<text x="223.1" y="544.2" class="fn" textLength="42.7" lengthAdjust="spacingAndGlyphs">Patients</text>
<text x="267.8" y="544.2" class="fn" textLength="25.2" lengthAdjust="spacingAndGlyphs">with</text>
<text x="295" y="544.2" class="fn" textLength="42.3" lengthAdjust="spacingAndGlyphs">baseline</text>
<text x="339.3" y="544.2" class="fn" textLength="33" lengthAdjust="spacingAndGlyphs">RANKL</text>
<text x="374.3" y="544.2" class="fn" textLength="7.7" lengthAdjust="spacingAndGlyphs">&lt;</text>
<text x="384" y="544.2" class="fn" textLength="19.8" lengthAdjust="spacingAndGlyphs">LLD</text>
<text x="405.8" y="544.2" class="fn" textLength="21.4" lengthAdjust="spacingAndGlyphs">and</text>
<text x="429.2" y="544.2" class="fn" textLength="11.9" lengthAdjust="spacingAndGlyphs">no</text>
<text x="443.1" y="544.2" class="fn" textLength="43.9" lengthAdjust="spacingAndGlyphs">increase</text>
<text x="489" y="544.2" class="fn" textLength="46.7" lengthAdjust="spacingAndGlyphs">receiving</text>
<text x="537.7" y="544.2" class="fn" textLength="13.6" lengthAdjust="spacingAndGlyphs">no</text>
<text x="553.3" y="544.2" class="fn" textLength="63.3" lengthAdjust="spacingAndGlyphs">concomitant</text>
<text x="618.6" y="544.2" class="fn" textLength="21.5" lengthAdjust="spacingAndGlyphs">BST</text>
<text x="642.1" y="544.2" class="fn" textLength="8.2" lengthAdjust="spacingAndGlyphs">(n</text>
<text x="652.3" y="544.2" class="fn" textLength="17.6" lengthAdjust="spacingAndGlyphs">=3)</text>
<text x="213.2" y="559.1" class="fn">#</text>
<text x="223.1" y="559.1" class="fn" textLength="42.7" lengthAdjust="spacingAndGlyphs">Patients</text>
<text x="267.8" y="559.1" class="fn" textLength="25.2" lengthAdjust="spacingAndGlyphs">with</text>
<text x="295" y="559.1" class="fn" textLength="42.3" lengthAdjust="spacingAndGlyphs">baseline</text>
<text x="339.3" y="559.1" class="fn" textLength="33" lengthAdjust="spacingAndGlyphs">RANKL</text>
<text x="374.3" y="559.1" class="fn" textLength="7.7" lengthAdjust="spacingAndGlyphs">&lt;</text>
<text x="384" y="559.1" class="fn" textLength="19.8" lengthAdjust="spacingAndGlyphs">LLD</text>
<text x="405.8" y="559.1" class="fn" textLength="21.4" lengthAdjust="spacingAndGlyphs">and</text>
<text x="429.2" y="559.1" class="fn" textLength="11.1" lengthAdjust="spacingAndGlyphs">no</text>
<text x="442.3" y="559.1" class="fn" textLength="48.1" lengthAdjust="spacingAndGlyphs">detected</text>
<text x="492.4" y="559.1" class="fn" textLength="35.2" lengthAdjust="spacingAndGlyphs">change</text>
<text x="529.6" y="559.1" class="fn" textLength="49.2" lengthAdjust="spacingAndGlyphs">receiving</text>
<text x="580.8" y="559.1" class="fn" textLength="59.3" lengthAdjust="spacingAndGlyphs">Denosumab</text>
<text x="642.1" y="559.1" class="fn" textLength="32.9" lengthAdjust="spacingAndGlyphs">(n=22)</text>
<text x="213.2" y="574.4" class="fn">¶</text>
<text x="224" y="574.4" class="fn" textLength="42.5" lengthAdjust="spacingAndGlyphs">Patients</text>
<text x="268.5" y="574.4" class="fn" textLength="25" lengthAdjust="spacingAndGlyphs">with</text>
<text x="295.5" y="574.4" class="fn" textLength="41.8" lengthAdjust="spacingAndGlyphs">baseline</text>
<text x="339.3" y="574.4" class="fn" textLength="21.6" lengthAdjust="spacingAndGlyphs">CTX</text>
<text x="362.9" y="574.4" class="fn" textLength="5.9" lengthAdjust="spacingAndGlyphs">&lt;</text>
<text x="370.8" y="574.4" class="fn" textLength="18.2" lengthAdjust="spacingAndGlyphs">LLD</text>
<text x="391" y="574.4" class="fn" textLength="20.7" lengthAdjust="spacingAndGlyphs">and</text>
<text x="413.7" y="574.4" class="fn" textLength="15.2" lengthAdjust="spacingAndGlyphs">no</text>
<text x="430.9" y="574.4" class="fn" textLength="45.6" lengthAdjust="spacingAndGlyphs">detected</text>
<text x="478.5" y="574.4" class="fn" textLength="35" lengthAdjust="spacingAndGlyphs">change</text>
<text x="515.5" y="574.4" class="fn" textLength="51" lengthAdjust="spacingAndGlyphs">receiving</text>
<text x="568.5" y="574.4" class="fn" textLength="58.3" lengthAdjust="spacingAndGlyphs">Denosumab</text>
<text x="628.8" y="574.4" class="fn" textLength="33.9" lengthAdjust="spacingAndGlyphs">(n=22)</text>
</svg>
</body></html>
